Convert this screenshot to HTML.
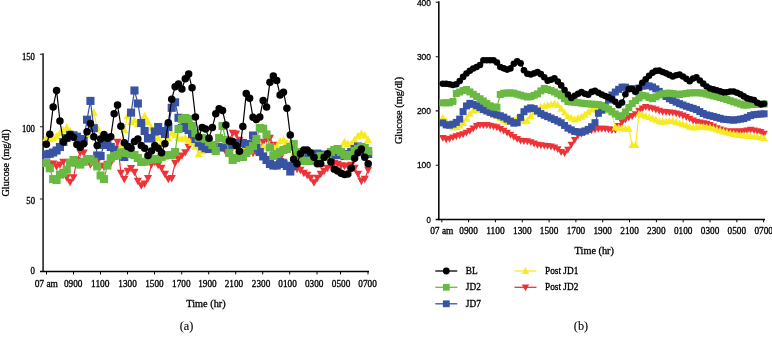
<!DOCTYPE html>
<html><head><meta charset="utf-8"><title>Glucose</title>
<style>
html,body{margin:0;padding:0;background:#fff;}
svg{display:block;}
.ser,.ser text{font-family:"Liberation Serif",serif;font-size:9.6px;fill:#000;stroke:#000;stroke-width:0.3px;}
.ser text.ttl{font-size:10.3px;}
.ser text.cap{font-size:12.3px;stroke-width:0.1px;}
.san text{font-family:"Liberation Sans",sans-serif;font-size:9.6px;fill:#000;stroke:#000;stroke-width:0.3px;}
</style></head><body>
<svg width="772" height="346" viewBox="0 0 772 346">
<rect width="772" height="346" fill="#fff"/>
<path d="M43.1 53.3V272.1" stroke="#3d3d3d" stroke-width="1.8" fill="none"/>
<path d="M39.9 54.3H43M39.9 126.8H43M39.9 199H43" stroke="#222" stroke-width="1.1" fill="none"/>
<path d="M40 271.4H369" stroke="#000" stroke-width="1.45" fill="none"/>
<path d="M46.5 271.4V274.4M73.5 271.4V274.4M100.5 271.4V274.4M127.5 271.4V274.4M154.5 271.4V274.4M181.7 271.4V274.4M208.7 271.4V274.4M235.7 271.4V274.4M262.7 271.4V274.4M289.7 271.4V274.4M317 271.4V274.4M340.5 271.4V274.4M368 271.4V274.4" stroke="#000" stroke-width="1" fill="none"/>
<path d="M438.8 1.3V220.2" stroke="#0a0a0a" stroke-width="1.6" fill="none"/>
<path d="M435.7 2.3H438.5M435.7 56.7H438.5M435.7 110.9H438.5M435.7 165.2H438.5" stroke="#111" stroke-width="1.1" fill="none"/>
<path d="M435.7 219.45H765" stroke="#000" stroke-width="1.45" fill="none"/>
<path d="M441.8 219.45V222.3M468.6 219.45V222.3M495.4 219.45V222.3M522.3 219.45V222.3M549.1 219.45V222.3M575.9 219.45V222.3M602.7 219.45V222.3M629.5 219.45V222.3M656.4 219.45V222.3M683.2 219.45V222.3M710.0 219.45V222.3M736.8 219.45V222.3M763.6 219.45V222.3" stroke="#000" stroke-width="1" fill="none"/>
<g class="ser" text-anchor="middle">
<text x="34.65" y="287" text-anchor="start" textLength="23.3" lengthAdjust="spacingAndGlyphs">07 am</text>
<text x="63.95" y="287" text-anchor="start" textLength="18.5" lengthAdjust="spacingAndGlyphs">0900</text>
<text x="91.05" y="287" text-anchor="start" textLength="18.5" lengthAdjust="spacingAndGlyphs">1100</text>
<text x="118.25" y="287" text-anchor="start" textLength="18.5" lengthAdjust="spacingAndGlyphs">1300</text>
<text x="145.15" y="287" text-anchor="start" textLength="18.5" lengthAdjust="spacingAndGlyphs">1500</text>
<text x="172.05" y="287" text-anchor="start" textLength="18.5" lengthAdjust="spacingAndGlyphs">1700</text>
<text x="198.15" y="287" text-anchor="start" textLength="18.5" lengthAdjust="spacingAndGlyphs">1900</text>
<text x="224.65" y="287" text-anchor="start" textLength="18.5" lengthAdjust="spacingAndGlyphs">2100</text>
<text x="251.75" y="287" text-anchor="start" textLength="18.5" lengthAdjust="spacingAndGlyphs">2300</text>
<text x="278.35" y="287" text-anchor="start" textLength="18.5" lengthAdjust="spacingAndGlyphs">0100</text>
<text x="304.95" y="287" text-anchor="start" textLength="18.5" lengthAdjust="spacingAndGlyphs">0300</text>
<text x="331.75" y="287" text-anchor="start" textLength="18.5" lengthAdjust="spacingAndGlyphs">0500</text>
<text x="358.25" y="287" text-anchor="start" textLength="18.5" lengthAdjust="spacingAndGlyphs">0700</text>
<text x="430.15" y="234.1" text-anchor="start" textLength="23.3" lengthAdjust="spacingAndGlyphs">07 am</text>
<text x="459.37" y="234.1" text-anchor="start" textLength="18.5" lengthAdjust="spacingAndGlyphs">0900</text>
<text x="486.19" y="234.1" text-anchor="start" textLength="18.5" lengthAdjust="spacingAndGlyphs">1100</text>
<text x="513.01" y="234.1" text-anchor="start" textLength="18.5" lengthAdjust="spacingAndGlyphs">1300</text>
<text x="539.83" y="234.1" text-anchor="start" textLength="18.5" lengthAdjust="spacingAndGlyphs">1500</text>
<text x="566.65" y="234.1" text-anchor="start" textLength="18.5" lengthAdjust="spacingAndGlyphs">1700</text>
<text x="593.47" y="234.1" text-anchor="start" textLength="18.5" lengthAdjust="spacingAndGlyphs">1900</text>
<text x="620.29" y="234.1" text-anchor="start" textLength="18.5" lengthAdjust="spacingAndGlyphs">2100</text>
<text x="647.11" y="234.1" text-anchor="start" textLength="18.5" lengthAdjust="spacingAndGlyphs">2300</text>
<text x="673.93" y="234.1" text-anchor="start" textLength="18.5" lengthAdjust="spacingAndGlyphs">0100</text>
<text x="700.75" y="234.1" text-anchor="start" textLength="18.5" lengthAdjust="spacingAndGlyphs">0300</text>
<text x="727.57" y="234.1" text-anchor="start" textLength="18.5" lengthAdjust="spacingAndGlyphs">0500</text>
<text x="754.39" y="234.1" text-anchor="start" textLength="18.5" lengthAdjust="spacingAndGlyphs">0700</text>
<text class="ttl" x="206" y="306.9">Time (hr)</text>
<text class="ttl" x="594.3" y="253.8">Time (hr)</text>
<text class="cap" x="186.5" y="330.3">(a)</text>
<text class="cap" x="581" y="330.3">(b)</text>
<text class="ttl" transform="translate(9.2,163) rotate(-90)">Glucose (mg/dl)</text>
<text class="ttl" transform="translate(402,110.5) rotate(-90)">Glucose (mg/dl)</text>
</g>
<g class="ser">
<text x="21.90" y="59.8" textLength="13.1" lengthAdjust="spacingAndGlyphs">150</text>
<text x="21.90" y="131.5" textLength="13.1" lengthAdjust="spacingAndGlyphs">100</text>
<text x="26.30" y="203.7" textLength="8.7" lengthAdjust="spacingAndGlyphs">50</text>
<text x="30.60" y="274.0" textLength="4.4" lengthAdjust="spacingAndGlyphs">0</text>
</g>
<g class="san">
<text x="416.90" y="5.8" textLength="14.1" lengthAdjust="spacingAndGlyphs">400</text>
<text x="416.90" y="59.8" textLength="14.1" lengthAdjust="spacingAndGlyphs">300</text>
<text x="416.90" y="114.1" textLength="14.1" lengthAdjust="spacingAndGlyphs">200</text>
<text x="416.90" y="168.4" textLength="14.1" lengthAdjust="spacingAndGlyphs">100</text>
<text x="426.60" y="222.7" textLength="4.4" lengthAdjust="spacingAndGlyphs">0</text>
</g>
<path d="M435.3 271.0H457.3" stroke="#000000" stroke-width="1.3"/><circle cx="446.30" cy="271.00" r="3.40" fill="#000000"/><text class="ser" style="font-size:9.3px" x="465.8" y="274.1">BL</text>
<path d="M435.3 287.3H457.3" stroke="#6ab943" stroke-width="1.3"/><rect x="442.90" y="283.90" width="6.80" height="6.80" fill="#6ab943"/><text class="ser" style="font-size:9.3px" x="465.8" y="290.40000000000003">JD2</text>
<path d="M435.3 303.8H457.3" stroke="#3953a4" stroke-width="1.3"/><rect x="442.90" y="300.40" width="6.80" height="6.80" fill="#3953a4"/><text class="ser" style="font-size:9.3px" x="465.8" y="306.90000000000003">JD7</text>
<path d="M514.5 271.0H536.5" stroke="#f6ea25" stroke-width="1.3"/><polygon points="525.50,267.09 521.76,273.89 529.24,273.89" fill="#f6ea25"/><text class="ser" style="font-size:9.3px" x="545.0" y="274.1">Post JD1</text>
<path d="M514.5 287.3H536.5" stroke="#ee3338" stroke-width="1.3"/><polygon points="525.50,291.21 521.76,284.41 529.24,284.41" fill="#ee3338"/><text class="ser" style="font-size:9.3px" x="545.0" y="290.40000000000003">Post JD2</text>
<polyline fill="none" stroke="#ee3338" stroke-width="1.20" points="46.40,163.50 49.79,164.00 53.17,163.70 56.56,166.40 59.95,164.60 63.33,161.80 66.72,177.30 70.11,181.90 73.50,177.30 76.88,160.00 80.27,152.50 83.66,152.70 87.04,160.00 90.43,164.60 93.82,163.00 97.20,162.00 100.59,166.00 103.98,167.00 107.37,164.00 110.75,163.00 114.14,150.00 117.53,142.00 120.91,172.80 124.30,179.10 127.69,171.00 131.07,168.20 134.46,171.90 137.85,181.00 141.24,185.50 144.62,183.70 148.01,178.20 151.40,164.60 154.78,162.00 158.17,165.00 161.56,168.00 164.94,174.00 168.33,179.10 171.72,178.20 175.11,163.00 178.49,159.00 181.88,155.60 185.27,152.30 188.65,147.00 192.04,139.00 195.43,137.50 198.81,143.00 202.20,143.57 205.59,144.14 208.98,144.71 212.36,145.29 215.75,145.86 219.14,146.43 222.52,147.00 225.91,152.00 229.30,140.00 232.69,133.00 236.07,133.70 239.46,140.00 242.85,145.50 246.23,149.00 249.62,152.00 253.01,153.00 256.39,152.00 259.78,149.00 263.17,142.00 266.56,139.00 269.94,138.00 273.33,145.00 276.72,152.00 280.10,158.00 283.49,162.00 286.88,165.00 290.26,167.00 293.65,168.00 297.04,169.00 300.43,170.00 303.81,173.00 307.20,175.00 310.59,178.00 313.97,182.50 317.36,178.00 320.75,174.00 324.13,171.00 327.52,168.00 330.91,165.00 334.29,163.00 337.68,164.00 341.07,165.50 344.46,166.00 347.84,166.00 351.23,165.00 354.62,168.00 358.00,174.00 361.39,181.00 364.78,179.00 368.16,170.00"/><polygon points="46.40,167.75 42.33,160.35 50.47,160.35" fill="#ee3338"/><polygon points="49.79,168.25 45.72,160.85 53.86,160.85" fill="#ee3338"/><polygon points="53.17,167.95 49.10,160.55 57.24,160.55" fill="#ee3338"/><polygon points="56.56,170.66 52.49,163.25 60.63,163.25" fill="#ee3338"/><polygon points="59.95,168.85 55.88,161.45 64.02,161.45" fill="#ee3338"/><polygon points="63.33,166.06 59.26,158.66 67.41,158.66" fill="#ee3338"/><polygon points="66.72,181.56 62.65,174.16 70.79,174.16" fill="#ee3338"/><polygon points="70.11,186.16 66.04,178.75 74.18,178.75" fill="#ee3338"/><polygon points="73.50,181.56 69.43,174.16 77.57,174.16" fill="#ee3338"/><polygon points="76.88,164.25 72.81,156.85 80.95,156.85" fill="#ee3338"/><polygon points="80.27,156.75 76.20,149.35 84.34,149.35" fill="#ee3338"/><polygon points="83.66,156.95 79.59,149.55 87.73,149.55" fill="#ee3338"/><polygon points="87.04,164.25 82.97,156.85 91.11,156.85" fill="#ee3338"/><polygon points="90.43,168.85 86.36,161.45 94.50,161.45" fill="#ee3338"/><polygon points="93.82,167.25 89.75,159.85 97.89,159.85" fill="#ee3338"/><polygon points="97.20,166.25 93.13,158.85 101.28,158.85" fill="#ee3338"/><polygon points="100.59,170.25 96.52,162.85 104.66,162.85" fill="#ee3338"/><polygon points="103.98,171.25 99.91,163.85 108.05,163.85" fill="#ee3338"/><polygon points="107.37,168.25 103.30,160.85 111.44,160.85" fill="#ee3338"/><polygon points="110.75,167.25 106.68,159.85 114.82,159.85" fill="#ee3338"/><polygon points="114.14,154.25 110.07,146.85 118.21,146.85" fill="#ee3338"/><polygon points="117.53,146.25 113.46,138.85 121.60,138.85" fill="#ee3338"/><polygon points="120.91,177.06 116.84,169.66 124.98,169.66" fill="#ee3338"/><polygon points="124.30,183.35 120.23,175.95 128.37,175.95" fill="#ee3338"/><polygon points="127.69,175.25 123.62,167.85 131.76,167.85" fill="#ee3338"/><polygon points="131.07,172.45 127.00,165.05 135.14,165.05" fill="#ee3338"/><polygon points="134.46,176.16 130.39,168.75 138.53,168.75" fill="#ee3338"/><polygon points="137.85,185.25 133.78,177.85 141.92,177.85" fill="#ee3338"/><polygon points="141.24,189.75 137.17,182.35 145.31,182.35" fill="#ee3338"/><polygon points="144.62,187.95 140.55,180.55 148.69,180.55" fill="#ee3338"/><polygon points="148.01,182.45 143.94,175.05 152.08,175.05" fill="#ee3338"/><polygon points="151.40,168.85 147.33,161.45 155.47,161.45" fill="#ee3338"/><polygon points="154.78,166.25 150.71,158.85 158.85,158.85" fill="#ee3338"/><polygon points="158.17,169.25 154.10,161.85 162.24,161.85" fill="#ee3338"/><polygon points="161.56,172.25 157.49,164.85 165.63,164.85" fill="#ee3338"/><polygon points="164.94,178.25 160.88,170.85 169.01,170.85" fill="#ee3338"/><polygon points="168.33,183.35 164.26,175.95 172.40,175.95" fill="#ee3338"/><polygon points="171.72,182.45 167.65,175.05 175.79,175.05" fill="#ee3338"/><polygon points="175.11,167.25 171.04,159.85 179.18,159.85" fill="#ee3338"/><polygon points="178.49,163.25 174.42,155.85 182.56,155.85" fill="#ee3338"/><polygon points="181.88,159.85 177.81,152.45 185.95,152.45" fill="#ee3338"/><polygon points="185.27,156.56 181.20,149.16 189.34,149.16" fill="#ee3338"/><polygon points="188.65,151.25 184.58,143.85 192.72,143.85" fill="#ee3338"/><polygon points="192.04,143.25 187.97,135.85 196.11,135.85" fill="#ee3338"/><polygon points="195.43,141.75 191.36,134.35 199.50,134.35" fill="#ee3338"/><polygon points="198.81,147.25 194.75,139.85 202.88,139.85" fill="#ee3338"/><polygon points="202.20,147.83 198.13,140.43 206.27,140.43" fill="#ee3338"/><polygon points="205.59,148.40 201.52,141.00 209.66,141.00" fill="#ee3338"/><polygon points="208.98,148.97 204.91,141.57 213.05,141.57" fill="#ee3338"/><polygon points="212.36,149.54 208.29,142.14 216.43,142.14" fill="#ee3338"/><polygon points="215.75,150.11 211.68,142.71 219.82,142.71" fill="#ee3338"/><polygon points="219.14,150.68 215.07,143.28 223.21,143.28" fill="#ee3338"/><polygon points="222.52,151.25 218.45,143.85 226.59,143.85" fill="#ee3338"/><polygon points="225.91,156.25 221.84,148.85 229.98,148.85" fill="#ee3338"/><polygon points="229.30,144.25 225.23,136.85 233.37,136.85" fill="#ee3338"/><polygon points="232.69,137.25 228.62,129.85 236.75,129.85" fill="#ee3338"/><polygon points="236.07,137.95 232.00,130.55 240.14,130.55" fill="#ee3338"/><polygon points="239.46,144.25 235.39,136.85 243.53,136.85" fill="#ee3338"/><polygon points="242.85,149.75 238.78,142.35 246.92,142.35" fill="#ee3338"/><polygon points="246.23,153.25 242.16,145.85 250.30,145.85" fill="#ee3338"/><polygon points="249.62,156.25 245.55,148.85 253.69,148.85" fill="#ee3338"/><polygon points="253.01,157.25 248.94,149.85 257.08,149.85" fill="#ee3338"/><polygon points="256.39,156.25 252.32,148.85 260.46,148.85" fill="#ee3338"/><polygon points="259.78,153.25 255.71,145.85 263.85,145.85" fill="#ee3338"/><polygon points="263.17,146.25 259.10,138.85 267.24,138.85" fill="#ee3338"/><polygon points="266.56,143.25 262.49,135.85 270.62,135.85" fill="#ee3338"/><polygon points="269.94,142.25 265.87,134.85 274.01,134.85" fill="#ee3338"/><polygon points="273.33,149.25 269.26,141.85 277.40,141.85" fill="#ee3338"/><polygon points="276.72,156.25 272.65,148.85 280.79,148.85" fill="#ee3338"/><polygon points="280.10,162.25 276.03,154.85 284.17,154.85" fill="#ee3338"/><polygon points="283.49,166.25 279.42,158.85 287.56,158.85" fill="#ee3338"/><polygon points="286.88,169.25 282.81,161.85 290.95,161.85" fill="#ee3338"/><polygon points="290.26,171.25 286.19,163.85 294.33,163.85" fill="#ee3338"/><polygon points="293.65,172.25 289.58,164.85 297.72,164.85" fill="#ee3338"/><polygon points="297.04,173.25 292.97,165.85 301.11,165.85" fill="#ee3338"/><polygon points="300.43,174.25 296.36,166.85 304.50,166.85" fill="#ee3338"/><polygon points="303.81,177.25 299.74,169.85 307.88,169.85" fill="#ee3338"/><polygon points="307.20,179.25 303.13,171.85 311.27,171.85" fill="#ee3338"/><polygon points="310.59,182.25 306.52,174.85 314.66,174.85" fill="#ee3338"/><polygon points="313.97,186.75 309.90,179.35 318.04,179.35" fill="#ee3338"/><polygon points="317.36,182.25 313.29,174.85 321.43,174.85" fill="#ee3338"/><polygon points="320.75,178.25 316.68,170.85 324.82,170.85" fill="#ee3338"/><polygon points="324.13,175.25 320.06,167.85 328.20,167.85" fill="#ee3338"/><polygon points="327.52,172.25 323.45,164.85 331.59,164.85" fill="#ee3338"/><polygon points="330.91,169.25 326.84,161.85 334.98,161.85" fill="#ee3338"/><polygon points="334.29,167.25 330.22,159.85 338.36,159.85" fill="#ee3338"/><polygon points="337.68,168.25 333.61,160.85 341.75,160.85" fill="#ee3338"/><polygon points="341.07,169.75 337.00,162.35 345.14,162.35" fill="#ee3338"/><polygon points="344.46,170.25 340.39,162.85 348.53,162.85" fill="#ee3338"/><polygon points="347.84,170.25 343.77,162.85 351.91,162.85" fill="#ee3338"/><polygon points="351.23,169.25 347.16,161.85 355.30,161.85" fill="#ee3338"/><polygon points="354.62,172.25 350.55,164.85 358.69,164.85" fill="#ee3338"/><polygon points="358.00,178.25 353.93,170.85 362.07,170.85" fill="#ee3338"/><polygon points="361.39,185.25 357.32,177.85 365.46,177.85" fill="#ee3338"/><polygon points="364.78,183.25 360.71,175.85 368.85,175.85" fill="#ee3338"/><polygon points="368.16,174.25 364.09,166.85 372.23,166.85" fill="#ee3338"/>
<polyline fill="none" stroke="#f6ea25" stroke-width="1.20" points="46.40,138.00 49.79,139.00 53.17,138.00 56.56,136.00 59.95,133.00 63.33,130.00 66.72,127.50 70.11,131.00 73.50,136.00 76.88,140.00 80.27,142.00 83.66,140.00 87.04,135.00 90.43,125.00 93.82,112.50 97.20,128.00 100.59,137.00 103.98,142.00 107.37,144.00 110.75,147.00 114.14,150.00 117.53,152.00 120.91,147.00 124.30,130.00 127.69,116.00 131.07,122.00 134.46,120.00 137.85,124.00 141.24,120.00 144.62,116.00 148.01,122.00 151.40,128.00 154.78,133.00 158.17,138.00 161.56,143.00 164.94,141.00 168.33,138.00 171.72,133.00 175.11,135.00 178.49,138.00 181.88,139.00 185.27,138.00 188.65,140.00 192.04,142.50 195.43,146.50 198.81,154.00 202.20,151.00 205.59,147.00 208.98,147.00 212.36,147.00 215.75,147.00 219.14,147.00 222.52,147.00 225.91,147.00 229.30,147.00 232.69,147.00 236.07,147.00 239.46,147.00 242.85,147.00 246.23,147.00 249.62,147.00 253.01,147.00 256.39,147.00 259.78,147.00 263.17,147.00 266.56,147.00 269.94,147.00 273.33,147.00 276.72,147.00 280.10,141.00 283.49,140.00 286.88,143.00 290.26,146.00 293.65,153.00 297.04,156.00 300.43,156.00 303.81,156.00 307.20,156.00 310.59,156.00 313.97,156.00 317.36,156.00 320.75,156.00 324.13,156.00 327.52,156.00 330.91,156.00 334.29,156.00 337.68,156.00 341.07,152.00 344.46,142.00 347.84,144.00 351.23,144.00 354.62,140.00 358.00,136.00 361.39,133.50 364.78,135.50 368.16,140.00"/><polygon points="46.40,133.75 42.33,141.15 50.47,141.15" fill="#f6ea25"/><polygon points="49.79,134.75 45.72,142.15 53.86,142.15" fill="#f6ea25"/><polygon points="53.17,133.75 49.10,141.15 57.24,141.15" fill="#f6ea25"/><polygon points="56.56,131.75 52.49,139.15 60.63,139.15" fill="#f6ea25"/><polygon points="59.95,128.75 55.88,136.15 64.02,136.15" fill="#f6ea25"/><polygon points="63.33,125.75 59.26,133.15 67.41,133.15" fill="#f6ea25"/><polygon points="66.72,123.25 62.65,130.65 70.79,130.65" fill="#f6ea25"/><polygon points="70.11,126.75 66.04,134.15 74.18,134.15" fill="#f6ea25"/><polygon points="73.50,131.75 69.43,139.15 77.57,139.15" fill="#f6ea25"/><polygon points="76.88,135.75 72.81,143.15 80.95,143.15" fill="#f6ea25"/><polygon points="80.27,137.75 76.20,145.15 84.34,145.15" fill="#f6ea25"/><polygon points="83.66,135.75 79.59,143.15 87.73,143.15" fill="#f6ea25"/><polygon points="87.04,130.75 82.97,138.15 91.11,138.15" fill="#f6ea25"/><polygon points="90.43,120.75 86.36,128.15 94.50,128.15" fill="#f6ea25"/><polygon points="93.82,108.25 89.75,115.64 97.89,115.64" fill="#f6ea25"/><polygon points="97.20,123.75 93.13,131.15 101.28,131.15" fill="#f6ea25"/><polygon points="100.59,132.75 96.52,140.15 104.66,140.15" fill="#f6ea25"/><polygon points="103.98,137.75 99.91,145.15 108.05,145.15" fill="#f6ea25"/><polygon points="107.37,139.75 103.30,147.15 111.44,147.15" fill="#f6ea25"/><polygon points="110.75,142.75 106.68,150.15 114.82,150.15" fill="#f6ea25"/><polygon points="114.14,145.75 110.07,153.15 118.21,153.15" fill="#f6ea25"/><polygon points="117.53,147.75 113.46,155.15 121.60,155.15" fill="#f6ea25"/><polygon points="120.91,142.75 116.84,150.15 124.98,150.15" fill="#f6ea25"/><polygon points="124.30,125.75 120.23,133.15 128.37,133.15" fill="#f6ea25"/><polygon points="127.69,111.75 123.62,119.14 131.76,119.14" fill="#f6ea25"/><polygon points="131.07,117.75 127.00,125.14 135.14,125.14" fill="#f6ea25"/><polygon points="134.46,115.75 130.39,123.14 138.53,123.14" fill="#f6ea25"/><polygon points="137.85,119.75 133.78,127.14 141.92,127.14" fill="#f6ea25"/><polygon points="141.24,115.75 137.17,123.14 145.31,123.14" fill="#f6ea25"/><polygon points="144.62,111.75 140.55,119.14 148.69,119.14" fill="#f6ea25"/><polygon points="148.01,117.75 143.94,125.14 152.08,125.14" fill="#f6ea25"/><polygon points="151.40,123.75 147.33,131.15 155.47,131.15" fill="#f6ea25"/><polygon points="154.78,128.75 150.71,136.15 158.85,136.15" fill="#f6ea25"/><polygon points="158.17,133.75 154.10,141.15 162.24,141.15" fill="#f6ea25"/><polygon points="161.56,138.75 157.49,146.15 165.63,146.15" fill="#f6ea25"/><polygon points="164.94,136.75 160.88,144.15 169.01,144.15" fill="#f6ea25"/><polygon points="168.33,133.75 164.26,141.15 172.40,141.15" fill="#f6ea25"/><polygon points="171.72,128.75 167.65,136.15 175.79,136.15" fill="#f6ea25"/><polygon points="175.11,130.75 171.04,138.15 179.18,138.15" fill="#f6ea25"/><polygon points="178.49,133.75 174.42,141.15 182.56,141.15" fill="#f6ea25"/><polygon points="181.88,134.75 177.81,142.15 185.95,142.15" fill="#f6ea25"/><polygon points="185.27,133.75 181.20,141.15 189.34,141.15" fill="#f6ea25"/><polygon points="188.65,135.75 184.58,143.15 192.72,143.15" fill="#f6ea25"/><polygon points="192.04,138.25 187.97,145.65 196.11,145.65" fill="#f6ea25"/><polygon points="195.43,142.25 191.36,149.65 199.50,149.65" fill="#f6ea25"/><polygon points="198.81,149.75 194.75,157.15 202.88,157.15" fill="#f6ea25"/><polygon points="202.20,146.75 198.13,154.15 206.27,154.15" fill="#f6ea25"/><polygon points="205.59,142.75 201.52,150.15 209.66,150.15" fill="#f6ea25"/><polygon points="208.98,142.75 204.91,150.15 213.05,150.15" fill="#f6ea25"/><polygon points="212.36,142.75 208.29,150.15 216.43,150.15" fill="#f6ea25"/><polygon points="215.75,142.75 211.68,150.15 219.82,150.15" fill="#f6ea25"/><polygon points="219.14,142.75 215.07,150.15 223.21,150.15" fill="#f6ea25"/><polygon points="222.52,142.75 218.45,150.15 226.59,150.15" fill="#f6ea25"/><polygon points="225.91,142.75 221.84,150.15 229.98,150.15" fill="#f6ea25"/><polygon points="229.30,142.75 225.23,150.15 233.37,150.15" fill="#f6ea25"/><polygon points="232.69,142.75 228.62,150.15 236.75,150.15" fill="#f6ea25"/><polygon points="236.07,142.75 232.00,150.15 240.14,150.15" fill="#f6ea25"/><polygon points="239.46,142.75 235.39,150.15 243.53,150.15" fill="#f6ea25"/><polygon points="242.85,142.75 238.78,150.15 246.92,150.15" fill="#f6ea25"/><polygon points="246.23,142.75 242.16,150.15 250.30,150.15" fill="#f6ea25"/><polygon points="249.62,142.75 245.55,150.15 253.69,150.15" fill="#f6ea25"/><polygon points="253.01,142.75 248.94,150.15 257.08,150.15" fill="#f6ea25"/><polygon points="256.39,142.75 252.32,150.15 260.46,150.15" fill="#f6ea25"/><polygon points="259.78,142.75 255.71,150.15 263.85,150.15" fill="#f6ea25"/><polygon points="263.17,142.75 259.10,150.15 267.24,150.15" fill="#f6ea25"/><polygon points="266.56,142.75 262.49,150.15 270.62,150.15" fill="#f6ea25"/><polygon points="269.94,142.75 265.87,150.15 274.01,150.15" fill="#f6ea25"/><polygon points="273.33,142.75 269.26,150.15 277.40,150.15" fill="#f6ea25"/><polygon points="276.72,142.75 272.65,150.15 280.79,150.15" fill="#f6ea25"/><polygon points="280.10,136.75 276.03,144.15 284.17,144.15" fill="#f6ea25"/><polygon points="283.49,135.75 279.42,143.15 287.56,143.15" fill="#f6ea25"/><polygon points="286.88,138.75 282.81,146.15 290.95,146.15" fill="#f6ea25"/><polygon points="290.26,141.75 286.19,149.15 294.33,149.15" fill="#f6ea25"/><polygon points="293.65,148.75 289.58,156.15 297.72,156.15" fill="#f6ea25"/><polygon points="297.04,151.75 292.97,159.15 301.11,159.15" fill="#f6ea25"/><polygon points="300.43,151.75 296.36,159.15 304.50,159.15" fill="#f6ea25"/><polygon points="303.81,151.75 299.74,159.15 307.88,159.15" fill="#f6ea25"/><polygon points="307.20,151.75 303.13,159.15 311.27,159.15" fill="#f6ea25"/><polygon points="310.59,151.75 306.52,159.15 314.66,159.15" fill="#f6ea25"/><polygon points="313.97,151.75 309.90,159.15 318.04,159.15" fill="#f6ea25"/><polygon points="317.36,151.75 313.29,159.15 321.43,159.15" fill="#f6ea25"/><polygon points="320.75,151.75 316.68,159.15 324.82,159.15" fill="#f6ea25"/><polygon points="324.13,151.75 320.06,159.15 328.20,159.15" fill="#f6ea25"/><polygon points="327.52,151.75 323.45,159.15 331.59,159.15" fill="#f6ea25"/><polygon points="330.91,151.75 326.84,159.15 334.98,159.15" fill="#f6ea25"/><polygon points="334.29,151.75 330.22,159.15 338.36,159.15" fill="#f6ea25"/><polygon points="337.68,151.75 333.61,159.15 341.75,159.15" fill="#f6ea25"/><polygon points="341.07,147.75 337.00,155.15 345.14,155.15" fill="#f6ea25"/><polygon points="344.46,137.75 340.39,145.15 348.53,145.15" fill="#f6ea25"/><polygon points="347.84,139.75 343.77,147.15 351.91,147.15" fill="#f6ea25"/><polygon points="351.23,139.75 347.16,147.15 355.30,147.15" fill="#f6ea25"/><polygon points="354.62,135.75 350.55,143.15 358.69,143.15" fill="#f6ea25"/><polygon points="358.00,131.75 353.93,139.15 362.07,139.15" fill="#f6ea25"/><polygon points="361.39,129.25 357.32,136.65 365.46,136.65" fill="#f6ea25"/><polygon points="364.78,131.25 360.71,138.65 368.85,138.65" fill="#f6ea25"/><polygon points="368.16,135.75 364.09,143.15 372.23,143.15" fill="#f6ea25"/>
<polyline fill="none" stroke="#3953a4" stroke-width="1.20" points="46.40,154.50 49.79,153.80 53.17,152.50 56.56,150.50 59.95,147.00 63.33,142.00 66.72,138.00 70.11,134.80 73.50,135.30 76.88,136.70 80.27,139.00 83.66,141.00 87.04,119.70 90.43,100.90 93.82,128.20 97.20,155.50 100.59,156.00 103.98,145.00 107.37,139.00 110.75,147.00 114.14,150.00 117.53,153.00 120.91,155.00 124.30,157.00 127.69,147.00 131.07,112.60 134.46,90.50 137.85,103.50 141.24,123.00 144.62,131.00 148.01,138.50 151.40,138.00 154.78,131.50 158.17,127.00 161.56,131.00 164.94,134.00 168.33,127.00 171.72,107.80 175.11,102.30 178.49,117.80 181.88,128.00 185.27,126.40 188.65,130.00 192.04,134.00 195.43,139.00 198.81,142.80 202.20,146.40 205.59,148.20 208.98,149.00 212.36,148.00 215.75,147.00 219.14,147.00 222.52,147.50 225.91,147.00 229.30,146.40 232.69,145.00 236.07,144.00 239.46,143.00 242.85,143.00 246.23,144.00 249.62,144.60 253.01,135.50 256.39,147.50 259.78,152.00 263.17,156.40 266.56,160.00 269.94,164.00 273.33,165.50 276.72,165.50 280.10,162.00 283.49,164.00 286.88,166.00 290.26,171.50 293.65,166.00 297.04,161.00 300.43,157.00 303.81,156.00 307.20,155.00 310.59,155.00 313.97,154.50 317.36,153.60 320.75,154.50 324.13,156.00 327.52,157.00 330.91,156.00 334.29,155.00 337.68,154.00 341.07,155.00 344.46,156.00 347.84,154.00 351.23,152.00 354.62,149.00 358.00,146.50 361.39,149.00 364.78,153.00 368.16,154.00"/><rect x="42.35" y="150.45" width="8.10" height="8.10" fill="#3953a4"/><rect x="45.74" y="149.75" width="8.10" height="8.10" fill="#3953a4"/><rect x="49.12" y="148.45" width="8.10" height="8.10" fill="#3953a4"/><rect x="52.51" y="146.45" width="8.10" height="8.10" fill="#3953a4"/><rect x="55.90" y="142.95" width="8.10" height="8.10" fill="#3953a4"/><rect x="59.28" y="137.95" width="8.10" height="8.10" fill="#3953a4"/><rect x="62.67" y="133.95" width="8.10" height="8.10" fill="#3953a4"/><rect x="66.06" y="130.75" width="8.10" height="8.10" fill="#3953a4"/><rect x="69.45" y="131.25" width="8.10" height="8.10" fill="#3953a4"/><rect x="72.83" y="132.65" width="8.10" height="8.10" fill="#3953a4"/><rect x="76.22" y="134.95" width="8.10" height="8.10" fill="#3953a4"/><rect x="79.61" y="136.95" width="8.10" height="8.10" fill="#3953a4"/><rect x="82.99" y="115.65" width="8.10" height="8.10" fill="#3953a4"/><rect x="86.38" y="96.85" width="8.10" height="8.10" fill="#3953a4"/><rect x="89.77" y="124.15" width="8.10" height="8.10" fill="#3953a4"/><rect x="93.16" y="151.45" width="8.10" height="8.10" fill="#3953a4"/><rect x="96.54" y="151.95" width="8.10" height="8.10" fill="#3953a4"/><rect x="99.93" y="140.95" width="8.10" height="8.10" fill="#3953a4"/><rect x="103.32" y="134.95" width="8.10" height="8.10" fill="#3953a4"/><rect x="106.70" y="142.95" width="8.10" height="8.10" fill="#3953a4"/><rect x="110.09" y="145.95" width="8.10" height="8.10" fill="#3953a4"/><rect x="113.48" y="148.95" width="8.10" height="8.10" fill="#3953a4"/><rect x="116.86" y="150.95" width="8.10" height="8.10" fill="#3953a4"/><rect x="120.25" y="152.95" width="8.10" height="8.10" fill="#3953a4"/><rect x="123.64" y="142.95" width="8.10" height="8.10" fill="#3953a4"/><rect x="127.02" y="108.55" width="8.10" height="8.10" fill="#3953a4"/><rect x="130.41" y="86.45" width="8.10" height="8.10" fill="#3953a4"/><rect x="133.80" y="99.45" width="8.10" height="8.10" fill="#3953a4"/><rect x="137.19" y="118.95" width="8.10" height="8.10" fill="#3953a4"/><rect x="140.57" y="126.95" width="8.10" height="8.10" fill="#3953a4"/><rect x="143.96" y="134.45" width="8.10" height="8.10" fill="#3953a4"/><rect x="147.35" y="133.95" width="8.10" height="8.10" fill="#3953a4"/><rect x="150.73" y="127.45" width="8.10" height="8.10" fill="#3953a4"/><rect x="154.12" y="122.95" width="8.10" height="8.10" fill="#3953a4"/><rect x="157.51" y="126.95" width="8.10" height="8.10" fill="#3953a4"/><rect x="160.89" y="129.95" width="8.10" height="8.10" fill="#3953a4"/><rect x="164.28" y="122.95" width="8.10" height="8.10" fill="#3953a4"/><rect x="167.67" y="103.75" width="8.10" height="8.10" fill="#3953a4"/><rect x="171.06" y="98.25" width="8.10" height="8.10" fill="#3953a4"/><rect x="174.44" y="113.75" width="8.10" height="8.10" fill="#3953a4"/><rect x="177.83" y="123.95" width="8.10" height="8.10" fill="#3953a4"/><rect x="181.22" y="122.35" width="8.10" height="8.10" fill="#3953a4"/><rect x="184.60" y="125.95" width="8.10" height="8.10" fill="#3953a4"/><rect x="187.99" y="129.95" width="8.10" height="8.10" fill="#3953a4"/><rect x="191.38" y="134.95" width="8.10" height="8.10" fill="#3953a4"/><rect x="194.76" y="138.75" width="8.10" height="8.10" fill="#3953a4"/><rect x="198.15" y="142.35" width="8.10" height="8.10" fill="#3953a4"/><rect x="201.54" y="144.15" width="8.10" height="8.10" fill="#3953a4"/><rect x="204.93" y="144.95" width="8.10" height="8.10" fill="#3953a4"/><rect x="208.31" y="143.95" width="8.10" height="8.10" fill="#3953a4"/><rect x="211.70" y="142.95" width="8.10" height="8.10" fill="#3953a4"/><rect x="215.09" y="142.95" width="8.10" height="8.10" fill="#3953a4"/><rect x="218.47" y="143.45" width="8.10" height="8.10" fill="#3953a4"/><rect x="221.86" y="142.95" width="8.10" height="8.10" fill="#3953a4"/><rect x="225.25" y="142.35" width="8.10" height="8.10" fill="#3953a4"/><rect x="228.63" y="140.95" width="8.10" height="8.10" fill="#3953a4"/><rect x="232.02" y="139.95" width="8.10" height="8.10" fill="#3953a4"/><rect x="235.41" y="138.95" width="8.10" height="8.10" fill="#3953a4"/><rect x="238.80" y="138.95" width="8.10" height="8.10" fill="#3953a4"/><rect x="242.18" y="139.95" width="8.10" height="8.10" fill="#3953a4"/><rect x="245.57" y="140.55" width="8.10" height="8.10" fill="#3953a4"/><rect x="248.96" y="131.45" width="8.10" height="8.10" fill="#3953a4"/><rect x="252.34" y="143.45" width="8.10" height="8.10" fill="#3953a4"/><rect x="255.73" y="147.95" width="8.10" height="8.10" fill="#3953a4"/><rect x="259.12" y="152.35" width="8.10" height="8.10" fill="#3953a4"/><rect x="262.50" y="155.95" width="8.10" height="8.10" fill="#3953a4"/><rect x="265.89" y="159.95" width="8.10" height="8.10" fill="#3953a4"/><rect x="269.28" y="161.45" width="8.10" height="8.10" fill="#3953a4"/><rect x="272.67" y="161.45" width="8.10" height="8.10" fill="#3953a4"/><rect x="276.05" y="157.95" width="8.10" height="8.10" fill="#3953a4"/><rect x="279.44" y="159.95" width="8.10" height="8.10" fill="#3953a4"/><rect x="282.83" y="161.95" width="8.10" height="8.10" fill="#3953a4"/><rect x="286.21" y="167.45" width="8.10" height="8.10" fill="#3953a4"/><rect x="289.60" y="161.95" width="8.10" height="8.10" fill="#3953a4"/><rect x="292.99" y="156.95" width="8.10" height="8.10" fill="#3953a4"/><rect x="296.38" y="152.95" width="8.10" height="8.10" fill="#3953a4"/><rect x="299.76" y="151.95" width="8.10" height="8.10" fill="#3953a4"/><rect x="303.15" y="150.95" width="8.10" height="8.10" fill="#3953a4"/><rect x="306.54" y="150.95" width="8.10" height="8.10" fill="#3953a4"/><rect x="309.92" y="150.45" width="8.10" height="8.10" fill="#3953a4"/><rect x="313.31" y="149.55" width="8.10" height="8.10" fill="#3953a4"/><rect x="316.70" y="150.45" width="8.10" height="8.10" fill="#3953a4"/><rect x="320.08" y="151.95" width="8.10" height="8.10" fill="#3953a4"/><rect x="323.47" y="152.95" width="8.10" height="8.10" fill="#3953a4"/><rect x="326.86" y="151.95" width="8.10" height="8.10" fill="#3953a4"/><rect x="330.24" y="150.95" width="8.10" height="8.10" fill="#3953a4"/><rect x="333.63" y="149.95" width="8.10" height="8.10" fill="#3953a4"/><rect x="337.02" y="150.95" width="8.10" height="8.10" fill="#3953a4"/><rect x="340.41" y="151.95" width="8.10" height="8.10" fill="#3953a4"/><rect x="343.79" y="149.95" width="8.10" height="8.10" fill="#3953a4"/><rect x="347.18" y="147.95" width="8.10" height="8.10" fill="#3953a4"/><rect x="350.57" y="144.95" width="8.10" height="8.10" fill="#3953a4"/><rect x="353.95" y="142.45" width="8.10" height="8.10" fill="#3953a4"/><rect x="357.34" y="144.95" width="8.10" height="8.10" fill="#3953a4"/><rect x="360.73" y="148.95" width="8.10" height="8.10" fill="#3953a4"/><rect x="364.11" y="149.95" width="8.10" height="8.10" fill="#3953a4"/>
<polyline fill="none" stroke="#6ab943" stroke-width="1.20" points="46.40,163.10 49.79,168.20 53.17,179.10 56.56,180.00 59.95,174.60 63.33,172.80 66.72,169.70 70.11,162.70 73.50,160.00 76.88,162.70 80.27,164.60 83.66,161.80 87.04,159.10 90.43,159.10 93.82,161.80 97.20,166.40 100.59,175.50 103.98,179.10 107.37,165.50 110.75,158.20 114.14,156.00 117.53,155.00 120.91,152.50 124.30,152.50 127.69,153.00 131.07,154.00 134.46,155.00 137.85,158.00 141.24,162.00 144.62,161.80 148.01,160.00 151.40,159.50 154.78,159.00 158.17,159.00 161.56,157.00 164.94,155.50 168.33,155.00 171.72,155.00 175.11,152.00 178.49,129.00 181.88,119.00 185.27,118.00 188.65,119.00 192.04,126.00 195.43,133.00 198.81,138.00 202.20,138.00 205.59,139.00 208.98,142.00 212.36,145.00 215.75,151.00 219.14,138.00 222.52,126.00 225.91,140.00 229.30,153.00 232.69,160.00 236.07,158.00 239.46,155.00 242.85,157.00 246.23,153.00 249.62,150.00 253.01,146.00 256.39,139.00 259.78,128.00 263.17,128.70 266.56,134.50 269.94,147.50 273.33,156.00 276.72,154.00 280.10,152.00 283.49,150.00 286.88,149.00 290.26,147.00 293.65,144.00 297.04,152.00 300.43,158.00 303.81,161.00 307.20,161.00 310.59,161.00 313.97,159.00 317.36,157.00 320.75,156.00 324.13,157.00 327.52,155.00 330.91,152.00 334.29,150.00 337.68,149.00 341.07,152.00 344.46,155.00 347.84,156.00 351.23,155.00 354.62,151.00 358.00,149.00 361.39,147.00 364.78,148.00 368.16,151.00"/><rect x="42.35" y="159.05" width="8.10" height="8.10" fill="#6ab943"/><rect x="45.74" y="164.15" width="8.10" height="8.10" fill="#6ab943"/><rect x="49.12" y="175.05" width="8.10" height="8.10" fill="#6ab943"/><rect x="52.51" y="175.95" width="8.10" height="8.10" fill="#6ab943"/><rect x="55.90" y="170.55" width="8.10" height="8.10" fill="#6ab943"/><rect x="59.28" y="168.75" width="8.10" height="8.10" fill="#6ab943"/><rect x="62.67" y="165.65" width="8.10" height="8.10" fill="#6ab943"/><rect x="66.06" y="158.65" width="8.10" height="8.10" fill="#6ab943"/><rect x="69.45" y="155.95" width="8.10" height="8.10" fill="#6ab943"/><rect x="72.83" y="158.65" width="8.10" height="8.10" fill="#6ab943"/><rect x="76.22" y="160.55" width="8.10" height="8.10" fill="#6ab943"/><rect x="79.61" y="157.75" width="8.10" height="8.10" fill="#6ab943"/><rect x="82.99" y="155.05" width="8.10" height="8.10" fill="#6ab943"/><rect x="86.38" y="155.05" width="8.10" height="8.10" fill="#6ab943"/><rect x="89.77" y="157.75" width="8.10" height="8.10" fill="#6ab943"/><rect x="93.16" y="162.35" width="8.10" height="8.10" fill="#6ab943"/><rect x="96.54" y="171.45" width="8.10" height="8.10" fill="#6ab943"/><rect x="99.93" y="175.05" width="8.10" height="8.10" fill="#6ab943"/><rect x="103.32" y="161.45" width="8.10" height="8.10" fill="#6ab943"/><rect x="106.70" y="154.15" width="8.10" height="8.10" fill="#6ab943"/><rect x="110.09" y="151.95" width="8.10" height="8.10" fill="#6ab943"/><rect x="113.48" y="150.95" width="8.10" height="8.10" fill="#6ab943"/><rect x="116.86" y="148.45" width="8.10" height="8.10" fill="#6ab943"/><rect x="120.25" y="148.45" width="8.10" height="8.10" fill="#6ab943"/><rect x="123.64" y="148.95" width="8.10" height="8.10" fill="#6ab943"/><rect x="127.02" y="149.95" width="8.10" height="8.10" fill="#6ab943"/><rect x="130.41" y="150.95" width="8.10" height="8.10" fill="#6ab943"/><rect x="133.80" y="153.95" width="8.10" height="8.10" fill="#6ab943"/><rect x="137.19" y="157.95" width="8.10" height="8.10" fill="#6ab943"/><rect x="140.57" y="157.75" width="8.10" height="8.10" fill="#6ab943"/><rect x="143.96" y="155.95" width="8.10" height="8.10" fill="#6ab943"/><rect x="147.35" y="155.45" width="8.10" height="8.10" fill="#6ab943"/><rect x="150.73" y="154.95" width="8.10" height="8.10" fill="#6ab943"/><rect x="154.12" y="154.95" width="8.10" height="8.10" fill="#6ab943"/><rect x="157.51" y="152.95" width="8.10" height="8.10" fill="#6ab943"/><rect x="160.89" y="151.45" width="8.10" height="8.10" fill="#6ab943"/><rect x="164.28" y="150.95" width="8.10" height="8.10" fill="#6ab943"/><rect x="167.67" y="150.95" width="8.10" height="8.10" fill="#6ab943"/><rect x="171.06" y="147.95" width="8.10" height="8.10" fill="#6ab943"/><rect x="174.44" y="124.95" width="8.10" height="8.10" fill="#6ab943"/><rect x="177.83" y="114.95" width="8.10" height="8.10" fill="#6ab943"/><rect x="181.22" y="113.95" width="8.10" height="8.10" fill="#6ab943"/><rect x="184.60" y="114.95" width="8.10" height="8.10" fill="#6ab943"/><rect x="187.99" y="121.95" width="8.10" height="8.10" fill="#6ab943"/><rect x="191.38" y="128.95" width="8.10" height="8.10" fill="#6ab943"/><rect x="194.76" y="133.95" width="8.10" height="8.10" fill="#6ab943"/><rect x="198.15" y="133.95" width="8.10" height="8.10" fill="#6ab943"/><rect x="201.54" y="134.95" width="8.10" height="8.10" fill="#6ab943"/><rect x="204.93" y="137.95" width="8.10" height="8.10" fill="#6ab943"/><rect x="208.31" y="140.95" width="8.10" height="8.10" fill="#6ab943"/><rect x="211.70" y="146.95" width="8.10" height="8.10" fill="#6ab943"/><rect x="215.09" y="133.95" width="8.10" height="8.10" fill="#6ab943"/><rect x="218.47" y="121.95" width="8.10" height="8.10" fill="#6ab943"/><rect x="221.86" y="135.95" width="8.10" height="8.10" fill="#6ab943"/><rect x="225.25" y="148.95" width="8.10" height="8.10" fill="#6ab943"/><rect x="228.63" y="155.95" width="8.10" height="8.10" fill="#6ab943"/><rect x="232.02" y="153.95" width="8.10" height="8.10" fill="#6ab943"/><rect x="235.41" y="150.95" width="8.10" height="8.10" fill="#6ab943"/><rect x="238.80" y="152.95" width="8.10" height="8.10" fill="#6ab943"/><rect x="242.18" y="148.95" width="8.10" height="8.10" fill="#6ab943"/><rect x="245.57" y="145.95" width="8.10" height="8.10" fill="#6ab943"/><rect x="248.96" y="141.95" width="8.10" height="8.10" fill="#6ab943"/><rect x="252.34" y="134.95" width="8.10" height="8.10" fill="#6ab943"/><rect x="255.73" y="123.95" width="8.10" height="8.10" fill="#6ab943"/><rect x="259.12" y="124.65" width="8.10" height="8.10" fill="#6ab943"/><rect x="262.50" y="130.45" width="8.10" height="8.10" fill="#6ab943"/><rect x="265.89" y="143.45" width="8.10" height="8.10" fill="#6ab943"/><rect x="269.28" y="151.95" width="8.10" height="8.10" fill="#6ab943"/><rect x="272.67" y="149.95" width="8.10" height="8.10" fill="#6ab943"/><rect x="276.05" y="147.95" width="8.10" height="8.10" fill="#6ab943"/><rect x="279.44" y="145.95" width="8.10" height="8.10" fill="#6ab943"/><rect x="282.83" y="144.95" width="8.10" height="8.10" fill="#6ab943"/><rect x="286.21" y="142.95" width="8.10" height="8.10" fill="#6ab943"/><rect x="289.60" y="139.95" width="8.10" height="8.10" fill="#6ab943"/><rect x="292.99" y="147.95" width="8.10" height="8.10" fill="#6ab943"/><rect x="296.38" y="153.95" width="8.10" height="8.10" fill="#6ab943"/><rect x="299.76" y="156.95" width="8.10" height="8.10" fill="#6ab943"/><rect x="303.15" y="156.95" width="8.10" height="8.10" fill="#6ab943"/><rect x="306.54" y="156.95" width="8.10" height="8.10" fill="#6ab943"/><rect x="309.92" y="154.95" width="8.10" height="8.10" fill="#6ab943"/><rect x="313.31" y="152.95" width="8.10" height="8.10" fill="#6ab943"/><rect x="316.70" y="151.95" width="8.10" height="8.10" fill="#6ab943"/><rect x="320.08" y="152.95" width="8.10" height="8.10" fill="#6ab943"/><rect x="323.47" y="150.95" width="8.10" height="8.10" fill="#6ab943"/><rect x="326.86" y="147.95" width="8.10" height="8.10" fill="#6ab943"/><rect x="330.24" y="145.95" width="8.10" height="8.10" fill="#6ab943"/><rect x="333.63" y="144.95" width="8.10" height="8.10" fill="#6ab943"/><rect x="337.02" y="147.95" width="8.10" height="8.10" fill="#6ab943"/><rect x="340.41" y="150.95" width="8.10" height="8.10" fill="#6ab943"/><rect x="343.79" y="151.95" width="8.10" height="8.10" fill="#6ab943"/><rect x="347.18" y="150.95" width="8.10" height="8.10" fill="#6ab943"/><rect x="350.57" y="146.95" width="8.10" height="8.10" fill="#6ab943"/><rect x="353.95" y="144.95" width="8.10" height="8.10" fill="#6ab943"/><rect x="357.34" y="142.95" width="8.10" height="8.10" fill="#6ab943"/><rect x="360.73" y="143.95" width="8.10" height="8.10" fill="#6ab943"/><rect x="364.11" y="146.95" width="8.10" height="8.10" fill="#6ab943"/>
<polyline fill="none" stroke="#000000" stroke-width="1.20" points="46.40,144.20 49.79,134.20 53.17,106.90 56.56,90.50 59.95,121.00 63.33,141.90 66.72,138.20 70.11,134.60 73.50,137.30 76.88,144.60 80.27,147.30 83.66,143.70 87.04,131.80 90.43,123.60 93.82,136.80 97.20,145.50 100.59,139.10 103.98,134.60 107.37,138.20 110.75,136.80 114.14,113.80 117.53,105.10 120.91,126.20 124.30,142.80 127.69,146.40 131.07,148.20 134.46,141.50 137.85,139.10 141.24,145.50 144.62,148.20 148.01,155.50 151.40,151.00 154.78,145.50 158.17,148.20 161.56,152.80 164.94,143.70 168.33,122.80 171.72,99.20 175.11,86.70 178.49,84.10 181.88,89.00 185.27,78.70 188.65,74.10 192.04,87.80 195.43,116.90 198.81,136.90 202.20,127.60 205.59,129.10 208.98,138.20 212.36,127.60 215.75,113.80 219.14,108.70 222.52,110.50 225.91,125.10 229.30,140.90 232.69,141.50 236.07,145.50 239.46,151.30 242.85,126.40 246.23,93.60 249.62,98.20 253.01,117.30 256.39,119.60 259.78,116.90 263.17,100.50 266.56,106.90 269.94,82.30 273.33,75.90 276.72,80.50 280.10,95.10 283.49,92.30 286.88,108.20 290.26,135.10 293.65,159.20 297.04,163.70 300.43,153.70 303.81,150.10 307.20,150.10 310.59,152.80 313.97,157.30 317.36,163.70 320.75,163.70 324.13,157.30 327.52,153.70 330.91,161.90 334.29,169.20 337.68,171.00 341.07,173.20 344.46,174.60 347.84,174.10 351.23,168.30 354.62,158.30 358.00,152.80 361.39,149.10 364.78,157.30 368.16,163.70"/><circle cx="46.40" cy="144.20" r="3.75" fill="#000000"/><circle cx="49.79" cy="134.20" r="3.75" fill="#000000"/><circle cx="53.17" cy="106.90" r="3.75" fill="#000000"/><circle cx="56.56" cy="90.50" r="3.75" fill="#000000"/><circle cx="59.95" cy="121.00" r="3.75" fill="#000000"/><circle cx="63.33" cy="141.90" r="3.75" fill="#000000"/><circle cx="66.72" cy="138.20" r="3.75" fill="#000000"/><circle cx="70.11" cy="134.60" r="3.75" fill="#000000"/><circle cx="73.50" cy="137.30" r="3.75" fill="#000000"/><circle cx="76.88" cy="144.60" r="3.75" fill="#000000"/><circle cx="80.27" cy="147.30" r="3.75" fill="#000000"/><circle cx="83.66" cy="143.70" r="3.75" fill="#000000"/><circle cx="87.04" cy="131.80" r="3.75" fill="#000000"/><circle cx="90.43" cy="123.60" r="3.75" fill="#000000"/><circle cx="93.82" cy="136.80" r="3.75" fill="#000000"/><circle cx="97.20" cy="145.50" r="3.75" fill="#000000"/><circle cx="100.59" cy="139.10" r="3.75" fill="#000000"/><circle cx="103.98" cy="134.60" r="3.75" fill="#000000"/><circle cx="107.37" cy="138.20" r="3.75" fill="#000000"/><circle cx="110.75" cy="136.80" r="3.75" fill="#000000"/><circle cx="114.14" cy="113.80" r="3.75" fill="#000000"/><circle cx="117.53" cy="105.10" r="3.75" fill="#000000"/><circle cx="120.91" cy="126.20" r="3.75" fill="#000000"/><circle cx="124.30" cy="142.80" r="3.75" fill="#000000"/><circle cx="127.69" cy="146.40" r="3.75" fill="#000000"/><circle cx="131.07" cy="148.20" r="3.75" fill="#000000"/><circle cx="134.46" cy="141.50" r="3.75" fill="#000000"/><circle cx="137.85" cy="139.10" r="3.75" fill="#000000"/><circle cx="141.24" cy="145.50" r="3.75" fill="#000000"/><circle cx="144.62" cy="148.20" r="3.75" fill="#000000"/><circle cx="148.01" cy="155.50" r="3.75" fill="#000000"/><circle cx="151.40" cy="151.00" r="3.75" fill="#000000"/><circle cx="154.78" cy="145.50" r="3.75" fill="#000000"/><circle cx="158.17" cy="148.20" r="3.75" fill="#000000"/><circle cx="161.56" cy="152.80" r="3.75" fill="#000000"/><circle cx="164.94" cy="143.70" r="3.75" fill="#000000"/><circle cx="168.33" cy="122.80" r="3.75" fill="#000000"/><circle cx="171.72" cy="99.20" r="3.75" fill="#000000"/><circle cx="175.11" cy="86.70" r="3.75" fill="#000000"/><circle cx="178.49" cy="84.10" r="3.75" fill="#000000"/><circle cx="181.88" cy="89.00" r="3.75" fill="#000000"/><circle cx="185.27" cy="78.70" r="3.75" fill="#000000"/><circle cx="188.65" cy="74.10" r="3.75" fill="#000000"/><circle cx="192.04" cy="87.80" r="3.75" fill="#000000"/><circle cx="195.43" cy="116.90" r="3.75" fill="#000000"/><circle cx="198.81" cy="136.90" r="3.75" fill="#000000"/><circle cx="202.20" cy="127.60" r="3.75" fill="#000000"/><circle cx="205.59" cy="129.10" r="3.75" fill="#000000"/><circle cx="208.98" cy="138.20" r="3.75" fill="#000000"/><circle cx="212.36" cy="127.60" r="3.75" fill="#000000"/><circle cx="215.75" cy="113.80" r="3.75" fill="#000000"/><circle cx="219.14" cy="108.70" r="3.75" fill="#000000"/><circle cx="222.52" cy="110.50" r="3.75" fill="#000000"/><circle cx="225.91" cy="125.10" r="3.75" fill="#000000"/><circle cx="229.30" cy="140.90" r="3.75" fill="#000000"/><circle cx="232.69" cy="141.50" r="3.75" fill="#000000"/><circle cx="236.07" cy="145.50" r="3.75" fill="#000000"/><circle cx="239.46" cy="151.30" r="3.75" fill="#000000"/><circle cx="242.85" cy="126.40" r="3.75" fill="#000000"/><circle cx="246.23" cy="93.60" r="3.75" fill="#000000"/><circle cx="249.62" cy="98.20" r="3.75" fill="#000000"/><circle cx="253.01" cy="117.30" r="3.75" fill="#000000"/><circle cx="256.39" cy="119.60" r="3.75" fill="#000000"/><circle cx="259.78" cy="116.90" r="3.75" fill="#000000"/><circle cx="263.17" cy="100.50" r="3.75" fill="#000000"/><circle cx="266.56" cy="106.90" r="3.75" fill="#000000"/><circle cx="269.94" cy="82.30" r="3.75" fill="#000000"/><circle cx="273.33" cy="75.90" r="3.75" fill="#000000"/><circle cx="276.72" cy="80.50" r="3.75" fill="#000000"/><circle cx="280.10" cy="95.10" r="3.75" fill="#000000"/><circle cx="283.49" cy="92.30" r="3.75" fill="#000000"/><circle cx="286.88" cy="108.20" r="3.75" fill="#000000"/><circle cx="290.26" cy="135.10" r="3.75" fill="#000000"/><circle cx="293.65" cy="159.20" r="3.75" fill="#000000"/><circle cx="297.04" cy="163.70" r="3.75" fill="#000000"/><circle cx="300.43" cy="153.70" r="3.75" fill="#000000"/><circle cx="303.81" cy="150.10" r="3.75" fill="#000000"/><circle cx="307.20" cy="150.10" r="3.75" fill="#000000"/><circle cx="310.59" cy="152.80" r="3.75" fill="#000000"/><circle cx="313.97" cy="157.30" r="3.75" fill="#000000"/><circle cx="317.36" cy="163.70" r="3.75" fill="#000000"/><circle cx="320.75" cy="163.70" r="3.75" fill="#000000"/><circle cx="324.13" cy="157.30" r="3.75" fill="#000000"/><circle cx="327.52" cy="153.70" r="3.75" fill="#000000"/><circle cx="330.91" cy="161.90" r="3.75" fill="#000000"/><circle cx="334.29" cy="169.20" r="3.75" fill="#000000"/><circle cx="337.68" cy="171.00" r="3.75" fill="#000000"/><circle cx="341.07" cy="173.20" r="3.75" fill="#000000"/><circle cx="344.46" cy="174.60" r="3.75" fill="#000000"/><circle cx="347.84" cy="174.10" r="3.75" fill="#000000"/><circle cx="351.23" cy="168.30" r="3.75" fill="#000000"/><circle cx="354.62" cy="158.30" r="3.75" fill="#000000"/><circle cx="358.00" cy="152.80" r="3.75" fill="#000000"/><circle cx="361.39" cy="149.10" r="3.75" fill="#000000"/><circle cx="364.78" cy="157.30" r="3.75" fill="#000000"/><circle cx="368.16" cy="163.70" r="3.75" fill="#000000"/>
<polyline fill="none" stroke="#ee3338" stroke-width="1.20" points="442.80,137.83 446.18,139.25 449.56,138.64 452.95,137.37 456.33,136.27 459.71,135.27 463.09,134.26 466.47,132.59 469.86,130.88 473.24,128.51 476.62,125.96 480.00,125.00 483.38,125.00 486.77,125.00 490.15,125.66 493.53,126.36 496.91,127.30 500.29,128.97 503.68,130.65 507.06,132.57 510.44,134.70 513.82,136.81 517.20,138.90 520.59,140.58 523.97,140.91 527.35,141.25 530.73,142.12 534.11,143.46 537.50,144.80 540.88,145.26 544.26,145.57 547.64,145.88 551.02,146.52 554.41,147.36 557.79,149.13 561.17,151.96 564.55,153.11 567.93,149.65 571.32,144.61 574.70,139.83 578.08,135.26 581.46,133.74 584.84,132.32 588.23,130.95 591.61,130.19 594.99,129.44 598.37,128.70 601.75,128.70 605.14,128.70 608.52,129.30 611.90,129.97 615.28,129.73 618.66,125.93 622.05,122.18 625.43,119.41 628.81,117.26 632.19,115.96 635.57,114.13 638.96,110.74 642.34,108.46 645.72,106.83 649.10,107.57 652.48,108.31 655.87,109.48 659.25,110.70 662.63,111.75 666.01,112.03 669.39,112.31 672.78,112.59 676.16,113.40 679.54,114.24 682.92,115.52 686.30,116.91 689.69,118.60 693.07,120.45 696.45,121.73 699.83,122.39 703.21,123.06 706.60,123.72 709.98,124.85 713.36,126.56 716.74,128.27 720.12,129.45 723.51,130.45 726.89,131.40 730.27,131.44 733.65,131.48 737.03,131.45 740.42,131.37 743.80,131.15 747.18,130.41 750.56,129.73 753.94,130.40 757.33,131.07 760.71,132.05 764.09,133.59"/><polygon points="442.80,141.80 439.00,134.90 446.60,134.90" fill="#ee3338"/><polygon points="446.18,143.22 442.39,136.32 449.98,136.32" fill="#ee3338"/><polygon points="449.56,142.61 445.77,135.71 453.36,135.71" fill="#ee3338"/><polygon points="452.95,141.34 449.15,134.44 456.74,134.44" fill="#ee3338"/><polygon points="456.33,140.24 452.53,133.34 460.12,133.34" fill="#ee3338"/><polygon points="459.71,139.23 455.92,132.33 463.51,132.33" fill="#ee3338"/><polygon points="463.09,138.23 459.30,131.33 466.89,131.33" fill="#ee3338"/><polygon points="466.47,136.56 462.68,129.66 470.27,129.66" fill="#ee3338"/><polygon points="469.86,134.84 466.06,127.94 473.65,127.94" fill="#ee3338"/><polygon points="473.24,132.48 469.44,125.58 477.03,125.58" fill="#ee3338"/><polygon points="476.62,129.93 472.82,123.03 480.42,123.03" fill="#ee3338"/><polygon points="480.00,128.97 476.21,122.07 483.80,122.07" fill="#ee3338"/><polygon points="483.38,128.97 479.59,122.07 487.18,122.07" fill="#ee3338"/><polygon points="486.77,128.97 482.97,122.07 490.56,122.07" fill="#ee3338"/><polygon points="490.15,129.62 486.35,122.72 493.94,122.72" fill="#ee3338"/><polygon points="493.53,130.33 489.74,123.43 497.33,123.43" fill="#ee3338"/><polygon points="496.91,131.27 493.12,124.37 500.71,124.37" fill="#ee3338"/><polygon points="500.29,132.94 496.50,126.04 504.09,126.04" fill="#ee3338"/><polygon points="503.68,134.61 499.88,127.71 507.47,127.71" fill="#ee3338"/><polygon points="507.06,136.54 503.26,129.64 510.85,129.64" fill="#ee3338"/><polygon points="510.44,138.67 506.64,131.77 514.24,131.77" fill="#ee3338"/><polygon points="513.82,140.78 510.03,133.88 517.62,133.88" fill="#ee3338"/><polygon points="517.20,142.87 513.41,135.97 521.00,135.97" fill="#ee3338"/><polygon points="520.59,144.55 516.79,137.65 524.38,137.65" fill="#ee3338"/><polygon points="523.97,144.88 520.17,137.98 527.76,137.98" fill="#ee3338"/><polygon points="527.35,145.21 523.56,138.31 531.14,138.31" fill="#ee3338"/><polygon points="530.73,146.09 526.94,139.19 534.53,139.19" fill="#ee3338"/><polygon points="534.11,147.43 530.32,140.53 537.91,140.53" fill="#ee3338"/><polygon points="537.50,148.77 533.70,141.87 541.29,141.87" fill="#ee3338"/><polygon points="540.88,149.23 537.08,142.33 544.67,142.33" fill="#ee3338"/><polygon points="544.26,149.54 540.47,142.64 548.05,142.64" fill="#ee3338"/><polygon points="547.64,149.85 543.85,142.95 551.44,142.95" fill="#ee3338"/><polygon points="551.02,150.49 547.23,143.59 554.82,143.59" fill="#ee3338"/><polygon points="554.41,151.33 550.61,144.43 558.20,144.43" fill="#ee3338"/><polygon points="557.79,153.10 553.99,146.20 561.58,146.20" fill="#ee3338"/><polygon points="561.17,155.92 557.38,149.02 564.97,149.02" fill="#ee3338"/><polygon points="564.55,157.08 560.76,150.18 568.35,150.18" fill="#ee3338"/><polygon points="567.93,153.62 564.14,146.72 571.73,146.72" fill="#ee3338"/><polygon points="571.32,148.58 567.52,141.68 575.11,141.68" fill="#ee3338"/><polygon points="574.70,143.80 570.90,136.90 578.49,136.90" fill="#ee3338"/><polygon points="578.08,139.23 574.29,132.33 581.88,132.33" fill="#ee3338"/><polygon points="581.46,137.70 577.67,130.80 585.26,130.80" fill="#ee3338"/><polygon points="584.84,136.29 581.05,129.39 588.64,129.39" fill="#ee3338"/><polygon points="588.23,134.92 584.43,128.02 592.02,128.02" fill="#ee3338"/><polygon points="591.61,134.16 587.81,127.26 595.40,127.26" fill="#ee3338"/><polygon points="594.99,133.41 591.20,126.51 598.78,126.51" fill="#ee3338"/><polygon points="598.37,132.67 594.58,125.77 602.17,125.77" fill="#ee3338"/><polygon points="601.75,132.67 597.96,125.77 605.55,125.77" fill="#ee3338"/><polygon points="605.14,132.67 601.34,125.77 608.93,125.77" fill="#ee3338"/><polygon points="608.52,133.26 604.72,126.36 612.31,126.36" fill="#ee3338"/><polygon points="611.90,133.93 608.11,127.03 615.69,127.03" fill="#ee3338"/><polygon points="615.28,133.70 611.49,126.80 619.08,126.80" fill="#ee3338"/><polygon points="618.66,129.90 614.87,123.00 622.46,123.00" fill="#ee3338"/><polygon points="622.05,126.15 618.25,119.25 625.84,119.25" fill="#ee3338"/><polygon points="625.43,123.38 621.63,116.48 629.22,116.48" fill="#ee3338"/><polygon points="628.81,121.23 625.02,114.33 632.61,114.33" fill="#ee3338"/><polygon points="632.19,119.93 628.40,113.03 635.99,113.03" fill="#ee3338"/><polygon points="635.57,118.09 631.78,111.19 639.37,111.19" fill="#ee3338"/><polygon points="638.96,114.71 635.16,107.81 642.75,107.81" fill="#ee3338"/><polygon points="642.34,112.43 638.54,105.53 646.13,105.53" fill="#ee3338"/><polygon points="645.72,110.79 641.93,103.89 649.51,103.89" fill="#ee3338"/><polygon points="649.10,111.54 645.31,104.64 652.90,104.64" fill="#ee3338"/><polygon points="652.48,112.28 648.69,105.38 656.28,105.38" fill="#ee3338"/><polygon points="655.87,113.44 652.07,106.54 659.66,106.54" fill="#ee3338"/><polygon points="659.25,114.67 655.45,107.77 663.04,107.77" fill="#ee3338"/><polygon points="662.63,115.72 658.84,108.82 666.42,108.82" fill="#ee3338"/><polygon points="666.01,116.00 662.22,109.10 669.81,109.10" fill="#ee3338"/><polygon points="669.39,116.28 665.60,109.38 673.19,109.38" fill="#ee3338"/><polygon points="672.78,116.56 668.98,109.66 676.57,109.66" fill="#ee3338"/><polygon points="676.16,117.37 672.36,110.47 679.95,110.47" fill="#ee3338"/><polygon points="679.54,118.20 675.75,111.30 683.33,111.30" fill="#ee3338"/><polygon points="682.92,119.49 679.13,112.59 686.72,112.59" fill="#ee3338"/><polygon points="686.30,120.88 682.51,113.98 690.10,113.98" fill="#ee3338"/><polygon points="689.69,122.57 685.89,115.67 693.48,115.67" fill="#ee3338"/><polygon points="693.07,124.42 689.27,117.52 696.86,117.52" fill="#ee3338"/><polygon points="696.45,125.69 692.66,118.79 700.25,118.79" fill="#ee3338"/><polygon points="699.83,126.36 696.04,119.46 703.63,119.46" fill="#ee3338"/><polygon points="703.21,127.03 699.42,120.13 707.01,120.13" fill="#ee3338"/><polygon points="706.60,127.69 702.80,120.79 710.39,120.79" fill="#ee3338"/><polygon points="709.98,128.81 706.18,121.91 713.77,121.91" fill="#ee3338"/><polygon points="713.36,130.52 709.57,123.62 717.15,123.62" fill="#ee3338"/><polygon points="716.74,132.23 712.95,125.33 720.54,125.33" fill="#ee3338"/><polygon points="720.12,133.42 716.33,126.52 723.92,126.52" fill="#ee3338"/><polygon points="723.51,134.42 719.71,127.52 727.30,127.52" fill="#ee3338"/><polygon points="726.89,135.37 723.09,128.47 730.68,128.47" fill="#ee3338"/><polygon points="730.27,135.41 726.48,128.51 734.06,128.51" fill="#ee3338"/><polygon points="733.65,135.45 729.86,128.55 737.45,128.55" fill="#ee3338"/><polygon points="737.03,135.42 733.24,128.52 740.83,128.52" fill="#ee3338"/><polygon points="740.42,135.33 736.62,128.43 744.21,128.43" fill="#ee3338"/><polygon points="743.80,135.11 740.00,128.21 747.59,128.21" fill="#ee3338"/><polygon points="747.18,134.37 743.39,127.47 750.98,127.47" fill="#ee3338"/><polygon points="750.56,133.70 746.77,126.80 754.36,126.80" fill="#ee3338"/><polygon points="753.94,134.37 750.15,127.47 757.74,127.47" fill="#ee3338"/><polygon points="757.33,135.04 753.53,128.14 761.12,128.14" fill="#ee3338"/><polygon points="760.71,136.02 756.91,129.12 764.50,129.12" fill="#ee3338"/><polygon points="764.09,137.55 760.30,130.65 767.88,130.65" fill="#ee3338"/>
<polyline fill="none" stroke="#f6ea25" stroke-width="1.20" points="442.80,117.65 446.18,121.15 449.56,124.35 452.95,127.45 456.33,126.97 459.71,125.46 463.09,123.02 466.47,118.76 469.86,113.88 473.24,110.75 476.62,109.84 480.00,109.86 483.38,110.53 486.77,111.44 490.15,112.90 493.53,114.40 496.91,116.04 500.29,118.04 503.68,120.04 507.06,121.99 510.44,121.43 513.82,120.25 517.20,118.30 520.59,120.71 523.97,121.20 527.35,120.89 530.73,115.97 534.11,112.55 537.50,109.13 540.88,106.64 544.26,106.15 547.64,105.40 551.02,104.53 554.41,103.66 557.79,104.98 561.17,108.78 564.55,112.62 567.93,116.12 571.32,117.84 574.70,119.46 578.08,118.09 581.46,116.71 584.84,114.83 588.23,111.96 591.61,109.50 594.99,108.97 598.37,108.57 601.75,109.22 605.14,109.86 608.52,110.51 611.90,113.00 615.28,127.50 618.66,127.80 622.05,128.39 625.43,128.70 628.81,128.70 632.19,145.10 635.57,145.06 638.96,114.04 642.34,114.81 645.72,115.97 649.10,117.12 652.48,118.44 655.87,119.84 659.25,121.24 662.63,121.83 666.01,121.46 669.39,121.10 672.78,121.01 676.16,122.07 679.54,123.12 682.92,124.18 686.30,125.43 689.69,126.70 693.07,127.51 696.45,127.22 699.83,126.92 703.21,126.98 706.60,127.27 709.98,127.57 713.36,128.51 716.74,129.51 720.12,130.51 723.51,131.52 726.89,132.52 730.27,133.37 733.65,134.08 737.03,134.78 740.42,135.18 743.80,135.51 747.18,135.84 750.56,136.17 753.94,136.51 757.33,136.95 760.71,137.55 764.09,138.14"/><polygon points="442.80,113.68 439.00,120.58 446.60,120.58" fill="#f6ea25"/><polygon points="446.18,117.18 442.39,124.08 449.98,124.08" fill="#f6ea25"/><polygon points="449.56,120.38 445.77,127.28 453.36,127.28" fill="#f6ea25"/><polygon points="452.95,123.48 449.15,130.38 456.74,130.38" fill="#f6ea25"/><polygon points="456.33,123.00 452.53,129.90 460.12,129.90" fill="#f6ea25"/><polygon points="459.71,121.50 455.92,128.40 463.51,128.40" fill="#f6ea25"/><polygon points="463.09,119.05 459.30,125.95 466.89,125.95" fill="#f6ea25"/><polygon points="466.47,114.79 462.68,121.69 470.27,121.69" fill="#f6ea25"/><polygon points="469.86,109.92 466.06,116.82 473.65,116.82" fill="#f6ea25"/><polygon points="473.24,106.78 469.44,113.68 477.03,113.68" fill="#f6ea25"/><polygon points="476.62,105.87 472.82,112.77 480.42,112.77" fill="#f6ea25"/><polygon points="480.00,105.89 476.21,112.79 483.80,112.79" fill="#f6ea25"/><polygon points="483.38,106.56 479.59,113.46 487.18,113.46" fill="#f6ea25"/><polygon points="486.77,107.47 482.97,114.37 490.56,114.37" fill="#f6ea25"/><polygon points="490.15,108.93 486.35,115.83 493.94,115.83" fill="#f6ea25"/><polygon points="493.53,110.43 489.74,117.33 497.33,117.33" fill="#f6ea25"/><polygon points="496.91,112.07 493.12,118.97 500.71,118.97" fill="#f6ea25"/><polygon points="500.29,114.07 496.50,120.97 504.09,120.97" fill="#f6ea25"/><polygon points="503.68,116.07 499.88,122.97 507.47,122.97" fill="#f6ea25"/><polygon points="507.06,118.02 503.26,124.92 510.85,124.92" fill="#f6ea25"/><polygon points="510.44,117.46 506.64,124.36 514.24,124.36" fill="#f6ea25"/><polygon points="513.82,116.28 510.03,123.18 517.62,123.18" fill="#f6ea25"/><polygon points="517.20,114.33 513.41,121.23 521.00,121.23" fill="#f6ea25"/><polygon points="520.59,116.74 516.79,123.64 524.38,123.64" fill="#f6ea25"/><polygon points="523.97,117.23 520.17,124.13 527.76,124.13" fill="#f6ea25"/><polygon points="527.35,116.92 523.56,123.82 531.14,123.82" fill="#f6ea25"/><polygon points="530.73,112.00 526.94,118.90 534.53,118.90" fill="#f6ea25"/><polygon points="534.11,108.58 530.32,115.48 537.91,115.48" fill="#f6ea25"/><polygon points="537.50,105.16 533.70,112.06 541.29,112.06" fill="#f6ea25"/><polygon points="540.88,102.68 537.08,109.58 544.67,109.58" fill="#f6ea25"/><polygon points="544.26,102.18 540.47,109.08 548.05,109.08" fill="#f6ea25"/><polygon points="547.64,101.43 543.85,108.33 551.44,108.33" fill="#f6ea25"/><polygon points="551.02,100.56 547.23,107.46 554.82,107.46" fill="#f6ea25"/><polygon points="554.41,99.69 550.61,106.59 558.20,106.59" fill="#f6ea25"/><polygon points="557.79,101.02 553.99,107.92 561.58,107.92" fill="#f6ea25"/><polygon points="561.17,104.82 557.38,111.72 564.97,111.72" fill="#f6ea25"/><polygon points="564.55,108.65 560.76,115.55 568.35,115.55" fill="#f6ea25"/><polygon points="567.93,112.15 564.14,119.05 571.73,119.05" fill="#f6ea25"/><polygon points="571.32,113.87 567.52,120.77 575.11,120.77" fill="#f6ea25"/><polygon points="574.70,115.49 570.90,122.39 578.49,122.39" fill="#f6ea25"/><polygon points="578.08,114.12 574.29,121.02 581.88,121.02" fill="#f6ea25"/><polygon points="581.46,112.74 577.67,119.64 585.26,119.64" fill="#f6ea25"/><polygon points="584.84,110.86 581.05,117.76 588.64,117.76" fill="#f6ea25"/><polygon points="588.23,107.99 584.43,114.89 592.02,114.89" fill="#f6ea25"/><polygon points="591.61,105.54 587.81,112.44 595.40,112.44" fill="#f6ea25"/><polygon points="594.99,105.01 591.20,111.91 598.78,111.91" fill="#f6ea25"/><polygon points="598.37,104.60 594.58,111.50 602.17,111.50" fill="#f6ea25"/><polygon points="601.75,105.25 597.96,112.15 605.55,112.15" fill="#f6ea25"/><polygon points="605.14,105.89 601.34,112.79 608.93,112.79" fill="#f6ea25"/><polygon points="608.52,106.55 604.72,113.45 612.31,113.45" fill="#f6ea25"/><polygon points="611.90,109.03 608.11,115.93 615.69,115.93" fill="#f6ea25"/><polygon points="615.28,123.53 611.49,130.43 619.08,130.43" fill="#f6ea25"/><polygon points="618.66,123.83 614.87,130.73 622.46,130.73" fill="#f6ea25"/><polygon points="622.05,124.42 618.25,131.32 625.84,131.32" fill="#f6ea25"/><polygon points="625.43,124.73 621.63,131.63 629.22,131.63" fill="#f6ea25"/><polygon points="628.81,124.73 625.02,131.63 632.61,131.63" fill="#f6ea25"/><polygon points="632.19,141.13 628.40,148.03 635.99,148.03" fill="#f6ea25"/><polygon points="635.57,141.10 631.78,148.00 639.37,148.00" fill="#f6ea25"/><polygon points="638.96,110.07 635.16,116.97 642.75,116.97" fill="#f6ea25"/><polygon points="642.34,110.85 638.54,117.75 646.13,117.75" fill="#f6ea25"/><polygon points="645.72,112.00 641.93,118.90 649.51,118.90" fill="#f6ea25"/><polygon points="649.10,113.16 645.31,120.06 652.90,120.06" fill="#f6ea25"/><polygon points="652.48,114.48 648.69,121.38 656.28,121.38" fill="#f6ea25"/><polygon points="655.87,115.87 652.07,122.77 659.66,122.77" fill="#f6ea25"/><polygon points="659.25,117.27 655.45,124.17 663.04,124.17" fill="#f6ea25"/><polygon points="662.63,117.87 658.84,124.77 666.42,124.77" fill="#f6ea25"/><polygon points="666.01,117.50 662.22,124.40 669.81,124.40" fill="#f6ea25"/><polygon points="669.39,117.13 665.60,124.03 673.19,124.03" fill="#f6ea25"/><polygon points="672.78,117.04 668.98,123.94 676.57,123.94" fill="#f6ea25"/><polygon points="676.16,118.10 672.36,125.00 679.95,125.00" fill="#f6ea25"/><polygon points="679.54,119.15 675.75,126.05 683.33,126.05" fill="#f6ea25"/><polygon points="682.92,120.21 679.13,127.11 686.72,127.11" fill="#f6ea25"/><polygon points="686.30,121.47 682.51,128.37 690.10,128.37" fill="#f6ea25"/><polygon points="689.69,122.73 685.89,129.63 693.48,129.63" fill="#f6ea25"/><polygon points="693.07,123.55 689.27,130.45 696.86,130.45" fill="#f6ea25"/><polygon points="696.45,123.25 692.66,130.15 700.25,130.15" fill="#f6ea25"/><polygon points="699.83,122.95 696.04,129.85 703.63,129.85" fill="#f6ea25"/><polygon points="703.21,123.01 699.42,129.91 707.01,129.91" fill="#f6ea25"/><polygon points="706.60,123.31 702.80,130.21 710.39,130.21" fill="#f6ea25"/><polygon points="709.98,123.60 706.18,130.50 713.77,130.50" fill="#f6ea25"/><polygon points="713.36,124.54 709.57,131.44 717.15,131.44" fill="#f6ea25"/><polygon points="716.74,125.54 712.95,132.44 720.54,132.44" fill="#f6ea25"/><polygon points="720.12,126.55 716.33,133.45 723.92,133.45" fill="#f6ea25"/><polygon points="723.51,127.55 719.71,134.45 727.30,134.45" fill="#f6ea25"/><polygon points="726.89,128.55 723.09,135.45 730.68,135.45" fill="#f6ea25"/><polygon points="730.27,129.40 726.48,136.30 734.06,136.30" fill="#f6ea25"/><polygon points="733.65,130.11 729.86,137.01 737.45,137.01" fill="#f6ea25"/><polygon points="737.03,130.81 733.24,137.71 740.83,137.71" fill="#f6ea25"/><polygon points="740.42,131.21 736.62,138.11 744.21,138.11" fill="#f6ea25"/><polygon points="743.80,131.54 740.00,138.44 747.59,138.44" fill="#f6ea25"/><polygon points="747.18,131.87 743.39,138.77 750.98,138.77" fill="#f6ea25"/><polygon points="750.56,132.20 746.77,139.10 754.36,139.10" fill="#f6ea25"/><polygon points="753.94,132.54 750.15,139.44 757.74,139.44" fill="#f6ea25"/><polygon points="757.33,132.98 753.53,139.88 761.12,139.88" fill="#f6ea25"/><polygon points="760.71,133.58 756.91,140.48 764.50,140.48" fill="#f6ea25"/><polygon points="764.09,134.17 760.30,141.07 767.88,141.07" fill="#f6ea25"/>
<polyline fill="none" stroke="#3953a4" stroke-width="1.20" points="442.80,122.89 446.18,124.91 449.56,125.20 452.95,124.17 456.33,122.43 459.71,119.12 463.09,111.61 466.47,105.94 469.86,103.35 473.24,104.39 476.62,105.77 480.00,107.62 483.38,109.46 486.77,110.99 490.15,112.43 493.53,113.82 496.91,114.79 500.29,115.76 503.68,117.15 507.06,119.10 510.44,121.07 513.82,123.15 517.20,122.72 520.59,117.38 523.97,111.68 527.35,109.13 530.73,107.83 534.11,108.63 537.50,111.02 540.88,113.56 544.26,115.21 547.64,116.63 551.02,118.04 554.41,119.55 557.79,121.15 561.17,122.75 564.55,125.44 567.93,128.12 571.32,129.84 574.70,131.51 578.08,131.88 581.46,132.25 584.84,130.95 588.23,129.40 591.61,126.77 594.99,122.68 598.37,113.32 601.75,110.23 605.14,105.97 608.52,99.97 611.90,95.00 615.28,92.06 618.66,89.33 622.05,87.13 625.43,87.18 628.81,88.50 632.19,88.62 635.57,90.73 638.96,88.04 642.34,86.28 645.72,85.24 649.10,85.87 652.48,86.99 655.87,88.88 659.25,91.39 662.63,93.94 666.01,96.50 669.39,98.79 672.78,100.46 676.16,102.14 679.54,103.61 682.92,104.94 686.30,106.28 689.69,107.34 693.07,108.37 696.45,109.58 699.83,111.55 703.21,113.52 706.60,114.89 709.98,115.67 713.36,116.45 716.74,117.38 720.12,118.35 723.51,119.24 726.89,119.55 730.27,119.86 733.65,120.17 737.03,119.70 740.42,119.14 743.80,118.58 747.18,117.28 750.56,115.61 753.94,114.65 757.33,114.35 760.71,114.05 764.09,113.80"/><rect x="439.30" y="119.39" width="7.00" height="7.00" fill="#3953a4"/><rect x="442.68" y="121.41" width="7.00" height="7.00" fill="#3953a4"/><rect x="446.06" y="121.70" width="7.00" height="7.00" fill="#3953a4"/><rect x="449.45" y="120.67" width="7.00" height="7.00" fill="#3953a4"/><rect x="452.83" y="118.93" width="7.00" height="7.00" fill="#3953a4"/><rect x="456.21" y="115.62" width="7.00" height="7.00" fill="#3953a4"/><rect x="459.59" y="108.11" width="7.00" height="7.00" fill="#3953a4"/><rect x="462.97" y="102.44" width="7.00" height="7.00" fill="#3953a4"/><rect x="466.36" y="99.85" width="7.00" height="7.00" fill="#3953a4"/><rect x="469.74" y="100.89" width="7.00" height="7.00" fill="#3953a4"/><rect x="473.12" y="102.27" width="7.00" height="7.00" fill="#3953a4"/><rect x="476.50" y="104.12" width="7.00" height="7.00" fill="#3953a4"/><rect x="479.88" y="105.96" width="7.00" height="7.00" fill="#3953a4"/><rect x="483.27" y="107.49" width="7.00" height="7.00" fill="#3953a4"/><rect x="486.65" y="108.93" width="7.00" height="7.00" fill="#3953a4"/><rect x="490.03" y="110.32" width="7.00" height="7.00" fill="#3953a4"/><rect x="493.41" y="111.29" width="7.00" height="7.00" fill="#3953a4"/><rect x="496.79" y="112.26" width="7.00" height="7.00" fill="#3953a4"/><rect x="500.18" y="113.65" width="7.00" height="7.00" fill="#3953a4"/><rect x="503.56" y="115.60" width="7.00" height="7.00" fill="#3953a4"/><rect x="506.94" y="117.57" width="7.00" height="7.00" fill="#3953a4"/><rect x="510.32" y="119.65" width="7.00" height="7.00" fill="#3953a4"/><rect x="513.70" y="119.22" width="7.00" height="7.00" fill="#3953a4"/><rect x="517.09" y="113.88" width="7.00" height="7.00" fill="#3953a4"/><rect x="520.47" y="108.18" width="7.00" height="7.00" fill="#3953a4"/><rect x="523.85" y="105.63" width="7.00" height="7.00" fill="#3953a4"/><rect x="527.23" y="104.33" width="7.00" height="7.00" fill="#3953a4"/><rect x="530.61" y="105.13" width="7.00" height="7.00" fill="#3953a4"/><rect x="534.00" y="107.52" width="7.00" height="7.00" fill="#3953a4"/><rect x="537.38" y="110.06" width="7.00" height="7.00" fill="#3953a4"/><rect x="540.76" y="111.71" width="7.00" height="7.00" fill="#3953a4"/><rect x="544.14" y="113.13" width="7.00" height="7.00" fill="#3953a4"/><rect x="547.52" y="114.54" width="7.00" height="7.00" fill="#3953a4"/><rect x="550.91" y="116.05" width="7.00" height="7.00" fill="#3953a4"/><rect x="554.29" y="117.65" width="7.00" height="7.00" fill="#3953a4"/><rect x="557.67" y="119.25" width="7.00" height="7.00" fill="#3953a4"/><rect x="561.05" y="121.94" width="7.00" height="7.00" fill="#3953a4"/><rect x="564.43" y="124.62" width="7.00" height="7.00" fill="#3953a4"/><rect x="567.82" y="126.34" width="7.00" height="7.00" fill="#3953a4"/><rect x="571.20" y="128.01" width="7.00" height="7.00" fill="#3953a4"/><rect x="574.58" y="128.38" width="7.00" height="7.00" fill="#3953a4"/><rect x="577.96" y="128.75" width="7.00" height="7.00" fill="#3953a4"/><rect x="581.34" y="127.45" width="7.00" height="7.00" fill="#3953a4"/><rect x="584.73" y="125.90" width="7.00" height="7.00" fill="#3953a4"/><rect x="588.11" y="123.27" width="7.00" height="7.00" fill="#3953a4"/><rect x="591.49" y="119.18" width="7.00" height="7.00" fill="#3953a4"/><rect x="594.87" y="109.82" width="7.00" height="7.00" fill="#3953a4"/><rect x="598.25" y="106.73" width="7.00" height="7.00" fill="#3953a4"/><rect x="601.64" y="102.47" width="7.00" height="7.00" fill="#3953a4"/><rect x="605.02" y="96.47" width="7.00" height="7.00" fill="#3953a4"/><rect x="608.40" y="91.50" width="7.00" height="7.00" fill="#3953a4"/><rect x="611.78" y="88.56" width="7.00" height="7.00" fill="#3953a4"/><rect x="615.16" y="85.83" width="7.00" height="7.00" fill="#3953a4"/><rect x="618.55" y="83.63" width="7.00" height="7.00" fill="#3953a4"/><rect x="621.93" y="83.68" width="7.00" height="7.00" fill="#3953a4"/><rect x="625.31" y="85.00" width="7.00" height="7.00" fill="#3953a4"/><rect x="628.69" y="85.12" width="7.00" height="7.00" fill="#3953a4"/><rect x="632.07" y="87.23" width="7.00" height="7.00" fill="#3953a4"/><rect x="635.46" y="84.54" width="7.00" height="7.00" fill="#3953a4"/><rect x="638.84" y="82.78" width="7.00" height="7.00" fill="#3953a4"/><rect x="642.22" y="81.74" width="7.00" height="7.00" fill="#3953a4"/><rect x="645.60" y="82.37" width="7.00" height="7.00" fill="#3953a4"/><rect x="648.98" y="83.49" width="7.00" height="7.00" fill="#3953a4"/><rect x="652.37" y="85.38" width="7.00" height="7.00" fill="#3953a4"/><rect x="655.75" y="87.89" width="7.00" height="7.00" fill="#3953a4"/><rect x="659.13" y="90.44" width="7.00" height="7.00" fill="#3953a4"/><rect x="662.51" y="93.00" width="7.00" height="7.00" fill="#3953a4"/><rect x="665.89" y="95.29" width="7.00" height="7.00" fill="#3953a4"/><rect x="669.28" y="96.96" width="7.00" height="7.00" fill="#3953a4"/><rect x="672.66" y="98.64" width="7.00" height="7.00" fill="#3953a4"/><rect x="676.04" y="100.11" width="7.00" height="7.00" fill="#3953a4"/><rect x="679.42" y="101.44" width="7.00" height="7.00" fill="#3953a4"/><rect x="682.80" y="102.78" width="7.00" height="7.00" fill="#3953a4"/><rect x="686.19" y="103.84" width="7.00" height="7.00" fill="#3953a4"/><rect x="689.57" y="104.87" width="7.00" height="7.00" fill="#3953a4"/><rect x="692.95" y="106.08" width="7.00" height="7.00" fill="#3953a4"/><rect x="696.33" y="108.05" width="7.00" height="7.00" fill="#3953a4"/><rect x="699.71" y="110.02" width="7.00" height="7.00" fill="#3953a4"/><rect x="703.10" y="111.39" width="7.00" height="7.00" fill="#3953a4"/><rect x="706.48" y="112.17" width="7.00" height="7.00" fill="#3953a4"/><rect x="709.86" y="112.95" width="7.00" height="7.00" fill="#3953a4"/><rect x="713.24" y="113.88" width="7.00" height="7.00" fill="#3953a4"/><rect x="716.62" y="114.85" width="7.00" height="7.00" fill="#3953a4"/><rect x="720.01" y="115.74" width="7.00" height="7.00" fill="#3953a4"/><rect x="723.39" y="116.05" width="7.00" height="7.00" fill="#3953a4"/><rect x="726.77" y="116.36" width="7.00" height="7.00" fill="#3953a4"/><rect x="730.15" y="116.67" width="7.00" height="7.00" fill="#3953a4"/><rect x="733.53" y="116.20" width="7.00" height="7.00" fill="#3953a4"/><rect x="736.92" y="115.64" width="7.00" height="7.00" fill="#3953a4"/><rect x="740.30" y="115.08" width="7.00" height="7.00" fill="#3953a4"/><rect x="743.68" y="113.78" width="7.00" height="7.00" fill="#3953a4"/><rect x="747.06" y="112.11" width="7.00" height="7.00" fill="#3953a4"/><rect x="750.44" y="111.15" width="7.00" height="7.00" fill="#3953a4"/><rect x="753.83" y="110.85" width="7.00" height="7.00" fill="#3953a4"/><rect x="757.21" y="110.55" width="7.00" height="7.00" fill="#3953a4"/><rect x="760.59" y="110.30" width="7.00" height="7.00" fill="#3953a4"/>
<polyline fill="none" stroke="#6ab943" stroke-width="1.20" points="442.80,102.80 446.18,102.80 449.56,102.80 452.95,101.42 456.33,93.55 459.71,92.03 463.09,90.51 466.47,89.53 469.86,91.91 473.24,94.26 476.62,96.50 480.00,98.74 483.38,100.99 486.77,103.38 490.15,105.76 493.53,107.00 496.91,107.29 500.29,94.50 503.68,93.21 507.06,93.05 510.44,92.89 513.82,93.19 517.20,94.20 520.59,95.20 523.97,96.12 527.35,97.00 530.73,96.66 534.11,95.28 537.50,93.90 540.88,90.87 544.26,88.53 547.64,89.53 551.02,90.53 554.41,91.99 557.79,93.85 561.17,95.71 564.55,98.80 567.93,101.57 571.32,101.94 574.70,102.31 578.08,102.70 581.46,103.10 584.84,103.50 588.23,103.90 591.61,104.14 594.99,104.32 598.37,104.52 601.75,105.60 605.14,107.21 608.52,109.11 611.90,111.49 615.28,113.97 618.66,116.45 622.05,115.66 625.43,111.89 628.81,107.51 632.19,103.60 635.57,100.70 638.96,98.03 642.34,95.33 645.72,95.96 649.10,97.55 652.48,98.73 655.87,96.85 659.25,95.01 662.63,93.79 666.01,93.33 669.39,93.14 672.78,93.60 676.16,94.06 679.54,94.48 682.92,93.95 686.30,93.42 689.69,92.90 693.07,92.80 696.45,92.80 699.83,92.80 703.21,93.30 706.60,94.14 709.98,94.97 713.36,95.82 716.74,96.68 720.12,97.54 723.51,98.43 726.89,99.55 730.27,100.67 733.65,101.79 737.03,102.90 740.42,104.02 743.80,105.14 747.18,105.09 750.56,104.49 753.94,104.36 757.33,104.24 760.71,104.11 764.09,104.00"/><rect x="439.30" y="99.30" width="7.00" height="7.00" fill="#6ab943"/><rect x="442.68" y="99.30" width="7.00" height="7.00" fill="#6ab943"/><rect x="446.06" y="99.30" width="7.00" height="7.00" fill="#6ab943"/><rect x="449.45" y="97.92" width="7.00" height="7.00" fill="#6ab943"/><rect x="452.83" y="90.05" width="7.00" height="7.00" fill="#6ab943"/><rect x="456.21" y="88.53" width="7.00" height="7.00" fill="#6ab943"/><rect x="459.59" y="87.01" width="7.00" height="7.00" fill="#6ab943"/><rect x="462.97" y="86.03" width="7.00" height="7.00" fill="#6ab943"/><rect x="466.36" y="88.41" width="7.00" height="7.00" fill="#6ab943"/><rect x="469.74" y="90.76" width="7.00" height="7.00" fill="#6ab943"/><rect x="473.12" y="93.00" width="7.00" height="7.00" fill="#6ab943"/><rect x="476.50" y="95.24" width="7.00" height="7.00" fill="#6ab943"/><rect x="479.88" y="97.49" width="7.00" height="7.00" fill="#6ab943"/><rect x="483.27" y="99.88" width="7.00" height="7.00" fill="#6ab943"/><rect x="486.65" y="102.26" width="7.00" height="7.00" fill="#6ab943"/><rect x="490.03" y="103.50" width="7.00" height="7.00" fill="#6ab943"/><rect x="493.41" y="103.79" width="7.00" height="7.00" fill="#6ab943"/><rect x="496.79" y="91.00" width="7.00" height="7.00" fill="#6ab943"/><rect x="500.18" y="89.71" width="7.00" height="7.00" fill="#6ab943"/><rect x="503.56" y="89.55" width="7.00" height="7.00" fill="#6ab943"/><rect x="506.94" y="89.39" width="7.00" height="7.00" fill="#6ab943"/><rect x="510.32" y="89.69" width="7.00" height="7.00" fill="#6ab943"/><rect x="513.70" y="90.70" width="7.00" height="7.00" fill="#6ab943"/><rect x="517.09" y="91.70" width="7.00" height="7.00" fill="#6ab943"/><rect x="520.47" y="92.62" width="7.00" height="7.00" fill="#6ab943"/><rect x="523.85" y="93.50" width="7.00" height="7.00" fill="#6ab943"/><rect x="527.23" y="93.16" width="7.00" height="7.00" fill="#6ab943"/><rect x="530.61" y="91.78" width="7.00" height="7.00" fill="#6ab943"/><rect x="534.00" y="90.40" width="7.00" height="7.00" fill="#6ab943"/><rect x="537.38" y="87.37" width="7.00" height="7.00" fill="#6ab943"/><rect x="540.76" y="85.03" width="7.00" height="7.00" fill="#6ab943"/><rect x="544.14" y="86.03" width="7.00" height="7.00" fill="#6ab943"/><rect x="547.52" y="87.03" width="7.00" height="7.00" fill="#6ab943"/><rect x="550.91" y="88.49" width="7.00" height="7.00" fill="#6ab943"/><rect x="554.29" y="90.35" width="7.00" height="7.00" fill="#6ab943"/><rect x="557.67" y="92.21" width="7.00" height="7.00" fill="#6ab943"/><rect x="561.05" y="95.30" width="7.00" height="7.00" fill="#6ab943"/><rect x="564.43" y="98.07" width="7.00" height="7.00" fill="#6ab943"/><rect x="567.82" y="98.44" width="7.00" height="7.00" fill="#6ab943"/><rect x="571.20" y="98.81" width="7.00" height="7.00" fill="#6ab943"/><rect x="574.58" y="99.20" width="7.00" height="7.00" fill="#6ab943"/><rect x="577.96" y="99.60" width="7.00" height="7.00" fill="#6ab943"/><rect x="581.34" y="100.00" width="7.00" height="7.00" fill="#6ab943"/><rect x="584.73" y="100.40" width="7.00" height="7.00" fill="#6ab943"/><rect x="588.11" y="100.64" width="7.00" height="7.00" fill="#6ab943"/><rect x="591.49" y="100.82" width="7.00" height="7.00" fill="#6ab943"/><rect x="594.87" y="101.02" width="7.00" height="7.00" fill="#6ab943"/><rect x="598.25" y="102.10" width="7.00" height="7.00" fill="#6ab943"/><rect x="601.64" y="103.71" width="7.00" height="7.00" fill="#6ab943"/><rect x="605.02" y="105.61" width="7.00" height="7.00" fill="#6ab943"/><rect x="608.40" y="107.99" width="7.00" height="7.00" fill="#6ab943"/><rect x="611.78" y="110.47" width="7.00" height="7.00" fill="#6ab943"/><rect x="615.16" y="112.95" width="7.00" height="7.00" fill="#6ab943"/><rect x="618.55" y="112.16" width="7.00" height="7.00" fill="#6ab943"/><rect x="621.93" y="108.39" width="7.00" height="7.00" fill="#6ab943"/><rect x="625.31" y="104.01" width="7.00" height="7.00" fill="#6ab943"/><rect x="628.69" y="100.10" width="7.00" height="7.00" fill="#6ab943"/><rect x="632.07" y="97.20" width="7.00" height="7.00" fill="#6ab943"/><rect x="635.46" y="94.53" width="7.00" height="7.00" fill="#6ab943"/><rect x="638.84" y="91.83" width="7.00" height="7.00" fill="#6ab943"/><rect x="642.22" y="92.46" width="7.00" height="7.00" fill="#6ab943"/><rect x="645.60" y="94.05" width="7.00" height="7.00" fill="#6ab943"/><rect x="648.98" y="95.23" width="7.00" height="7.00" fill="#6ab943"/><rect x="652.37" y="93.35" width="7.00" height="7.00" fill="#6ab943"/><rect x="655.75" y="91.51" width="7.00" height="7.00" fill="#6ab943"/><rect x="659.13" y="90.29" width="7.00" height="7.00" fill="#6ab943"/><rect x="662.51" y="89.83" width="7.00" height="7.00" fill="#6ab943"/><rect x="665.89" y="89.64" width="7.00" height="7.00" fill="#6ab943"/><rect x="669.28" y="90.10" width="7.00" height="7.00" fill="#6ab943"/><rect x="672.66" y="90.56" width="7.00" height="7.00" fill="#6ab943"/><rect x="676.04" y="90.98" width="7.00" height="7.00" fill="#6ab943"/><rect x="679.42" y="90.45" width="7.00" height="7.00" fill="#6ab943"/><rect x="682.80" y="89.92" width="7.00" height="7.00" fill="#6ab943"/><rect x="686.19" y="89.40" width="7.00" height="7.00" fill="#6ab943"/><rect x="689.57" y="89.30" width="7.00" height="7.00" fill="#6ab943"/><rect x="692.95" y="89.30" width="7.00" height="7.00" fill="#6ab943"/><rect x="696.33" y="89.30" width="7.00" height="7.00" fill="#6ab943"/><rect x="699.71" y="89.80" width="7.00" height="7.00" fill="#6ab943"/><rect x="703.10" y="90.64" width="7.00" height="7.00" fill="#6ab943"/><rect x="706.48" y="91.47" width="7.00" height="7.00" fill="#6ab943"/><rect x="709.86" y="92.32" width="7.00" height="7.00" fill="#6ab943"/><rect x="713.24" y="93.18" width="7.00" height="7.00" fill="#6ab943"/><rect x="716.62" y="94.04" width="7.00" height="7.00" fill="#6ab943"/><rect x="720.01" y="94.93" width="7.00" height="7.00" fill="#6ab943"/><rect x="723.39" y="96.05" width="7.00" height="7.00" fill="#6ab943"/><rect x="726.77" y="97.17" width="7.00" height="7.00" fill="#6ab943"/><rect x="730.15" y="98.29" width="7.00" height="7.00" fill="#6ab943"/><rect x="733.53" y="99.40" width="7.00" height="7.00" fill="#6ab943"/><rect x="736.92" y="100.52" width="7.00" height="7.00" fill="#6ab943"/><rect x="740.30" y="101.64" width="7.00" height="7.00" fill="#6ab943"/><rect x="743.68" y="101.59" width="7.00" height="7.00" fill="#6ab943"/><rect x="747.06" y="100.99" width="7.00" height="7.00" fill="#6ab943"/><rect x="750.44" y="100.86" width="7.00" height="7.00" fill="#6ab943"/><rect x="753.83" y="100.74" width="7.00" height="7.00" fill="#6ab943"/><rect x="757.21" y="100.61" width="7.00" height="7.00" fill="#6ab943"/><rect x="760.59" y="100.50" width="7.00" height="7.00" fill="#6ab943"/>
<polyline fill="none" stroke="#000000" stroke-width="1.20" points="442.80,83.70 446.18,83.70 449.56,84.28 452.95,85.04 456.33,84.23 459.71,80.99 463.09,76.90 466.47,73.44 469.86,70.79 473.24,68.44 476.62,66.98 480.00,65.03 483.38,60.20 486.77,60.20 490.15,60.20 493.53,60.20 496.91,62.50 500.29,66.96 503.68,68.37 507.06,69.60 510.44,68.41 513.82,63.72 517.20,61.20 520.59,63.37 523.97,70.24 527.35,73.75 530.73,74.43 534.11,73.37 537.50,72.14 540.88,74.17 544.26,77.26 547.64,80.64 551.02,79.68 554.41,78.21 557.79,81.59 561.17,85.42 564.55,89.99 567.93,94.43 571.32,98.01 574.70,95.68 578.08,93.68 581.46,92.02 584.84,93.76 588.23,94.65 591.61,91.90 594.99,90.91 598.37,92.76 601.75,94.62 605.14,96.02 608.52,97.39 611.90,99.05 615.28,101.85 618.66,105.32 622.05,102.43 625.43,94.26 628.81,89.16 632.19,89.00 635.57,91.86 638.96,88.12 642.34,82.77 645.72,79.18 649.10,75.85 652.48,72.76 655.87,70.91 659.25,70.58 662.63,71.93 666.01,73.35 669.39,74.90 672.78,76.44 676.16,75.23 679.54,74.61 682.92,76.47 686.30,78.87 689.69,81.29 693.07,78.60 696.45,77.24 699.83,80.56 703.21,83.64 706.60,86.56 709.98,88.56 713.36,89.40 716.74,90.29 720.12,91.33 723.51,92.37 726.89,92.31 730.27,91.48 733.65,91.54 737.03,92.79 740.42,94.28 743.80,96.41 747.18,98.39 750.56,99.19 753.94,99.99 757.33,102.78 760.71,104.33 764.09,103.70"/><circle cx="442.80" cy="83.70" r="3.30" fill="#000000"/><circle cx="446.18" cy="83.70" r="3.30" fill="#000000"/><circle cx="449.56" cy="84.28" r="3.30" fill="#000000"/><circle cx="452.95" cy="85.04" r="3.30" fill="#000000"/><circle cx="456.33" cy="84.23" r="3.30" fill="#000000"/><circle cx="459.71" cy="80.99" r="3.30" fill="#000000"/><circle cx="463.09" cy="76.90" r="3.30" fill="#000000"/><circle cx="466.47" cy="73.44" r="3.30" fill="#000000"/><circle cx="469.86" cy="70.79" r="3.30" fill="#000000"/><circle cx="473.24" cy="68.44" r="3.30" fill="#000000"/><circle cx="476.62" cy="66.98" r="3.30" fill="#000000"/><circle cx="480.00" cy="65.03" r="3.30" fill="#000000"/><circle cx="483.38" cy="60.20" r="3.30" fill="#000000"/><circle cx="486.77" cy="60.20" r="3.30" fill="#000000"/><circle cx="490.15" cy="60.20" r="3.30" fill="#000000"/><circle cx="493.53" cy="60.20" r="3.30" fill="#000000"/><circle cx="496.91" cy="62.50" r="3.30" fill="#000000"/><circle cx="500.29" cy="66.96" r="3.30" fill="#000000"/><circle cx="503.68" cy="68.37" r="3.30" fill="#000000"/><circle cx="507.06" cy="69.60" r="3.30" fill="#000000"/><circle cx="510.44" cy="68.41" r="3.30" fill="#000000"/><circle cx="513.82" cy="63.72" r="3.30" fill="#000000"/><circle cx="517.20" cy="61.20" r="3.30" fill="#000000"/><circle cx="520.59" cy="63.37" r="3.30" fill="#000000"/><circle cx="523.97" cy="70.24" r="3.30" fill="#000000"/><circle cx="527.35" cy="73.75" r="3.30" fill="#000000"/><circle cx="530.73" cy="74.43" r="3.30" fill="#000000"/><circle cx="534.11" cy="73.37" r="3.30" fill="#000000"/><circle cx="537.50" cy="72.14" r="3.30" fill="#000000"/><circle cx="540.88" cy="74.17" r="3.30" fill="#000000"/><circle cx="544.26" cy="77.26" r="3.30" fill="#000000"/><circle cx="547.64" cy="80.64" r="3.30" fill="#000000"/><circle cx="551.02" cy="79.68" r="3.30" fill="#000000"/><circle cx="554.41" cy="78.21" r="3.30" fill="#000000"/><circle cx="557.79" cy="81.59" r="3.30" fill="#000000"/><circle cx="561.17" cy="85.42" r="3.30" fill="#000000"/><circle cx="564.55" cy="89.99" r="3.30" fill="#000000"/><circle cx="567.93" cy="94.43" r="3.30" fill="#000000"/><circle cx="571.32" cy="98.01" r="3.30" fill="#000000"/><circle cx="574.70" cy="95.68" r="3.30" fill="#000000"/><circle cx="578.08" cy="93.68" r="3.30" fill="#000000"/><circle cx="581.46" cy="92.02" r="3.30" fill="#000000"/><circle cx="584.84" cy="93.76" r="3.30" fill="#000000"/><circle cx="588.23" cy="94.65" r="3.30" fill="#000000"/><circle cx="591.61" cy="91.90" r="3.30" fill="#000000"/><circle cx="594.99" cy="90.91" r="3.30" fill="#000000"/><circle cx="598.37" cy="92.76" r="3.30" fill="#000000"/><circle cx="601.75" cy="94.62" r="3.30" fill="#000000"/><circle cx="605.14" cy="96.02" r="3.30" fill="#000000"/><circle cx="608.52" cy="97.39" r="3.30" fill="#000000"/><circle cx="611.90" cy="99.05" r="3.30" fill="#000000"/><circle cx="615.28" cy="101.85" r="3.30" fill="#000000"/><circle cx="618.66" cy="105.32" r="3.30" fill="#000000"/><circle cx="622.05" cy="102.43" r="3.30" fill="#000000"/><circle cx="625.43" cy="94.26" r="3.30" fill="#000000"/><circle cx="628.81" cy="89.16" r="3.30" fill="#000000"/><circle cx="632.19" cy="89.00" r="3.30" fill="#000000"/><circle cx="635.57" cy="91.86" r="3.30" fill="#000000"/><circle cx="638.96" cy="88.12" r="3.30" fill="#000000"/><circle cx="642.34" cy="82.77" r="3.30" fill="#000000"/><circle cx="645.72" cy="79.18" r="3.30" fill="#000000"/><circle cx="649.10" cy="75.85" r="3.30" fill="#000000"/><circle cx="652.48" cy="72.76" r="3.30" fill="#000000"/><circle cx="655.87" cy="70.91" r="3.30" fill="#000000"/><circle cx="659.25" cy="70.58" r="3.30" fill="#000000"/><circle cx="662.63" cy="71.93" r="3.30" fill="#000000"/><circle cx="666.01" cy="73.35" r="3.30" fill="#000000"/><circle cx="669.39" cy="74.90" r="3.30" fill="#000000"/><circle cx="672.78" cy="76.44" r="3.30" fill="#000000"/><circle cx="676.16" cy="75.23" r="3.30" fill="#000000"/><circle cx="679.54" cy="74.61" r="3.30" fill="#000000"/><circle cx="682.92" cy="76.47" r="3.30" fill="#000000"/><circle cx="686.30" cy="78.87" r="3.30" fill="#000000"/><circle cx="689.69" cy="81.29" r="3.30" fill="#000000"/><circle cx="693.07" cy="78.60" r="3.30" fill="#000000"/><circle cx="696.45" cy="77.24" r="3.30" fill="#000000"/><circle cx="699.83" cy="80.56" r="3.30" fill="#000000"/><circle cx="703.21" cy="83.64" r="3.30" fill="#000000"/><circle cx="706.60" cy="86.56" r="3.30" fill="#000000"/><circle cx="709.98" cy="88.56" r="3.30" fill="#000000"/><circle cx="713.36" cy="89.40" r="3.30" fill="#000000"/><circle cx="716.74" cy="90.29" r="3.30" fill="#000000"/><circle cx="720.12" cy="91.33" r="3.30" fill="#000000"/><circle cx="723.51" cy="92.37" r="3.30" fill="#000000"/><circle cx="726.89" cy="92.31" r="3.30" fill="#000000"/><circle cx="730.27" cy="91.48" r="3.30" fill="#000000"/><circle cx="733.65" cy="91.54" r="3.30" fill="#000000"/><circle cx="737.03" cy="92.79" r="3.30" fill="#000000"/><circle cx="740.42" cy="94.28" r="3.30" fill="#000000"/><circle cx="743.80" cy="96.41" r="3.30" fill="#000000"/><circle cx="747.18" cy="98.39" r="3.30" fill="#000000"/><circle cx="750.56" cy="99.19" r="3.30" fill="#000000"/><circle cx="753.94" cy="99.99" r="3.30" fill="#000000"/><circle cx="757.33" cy="102.78" r="3.30" fill="#000000"/><circle cx="760.71" cy="104.33" r="3.30" fill="#000000"/><circle cx="764.09" cy="103.70" r="3.30" fill="#000000"/>
</svg>
</body></html>
